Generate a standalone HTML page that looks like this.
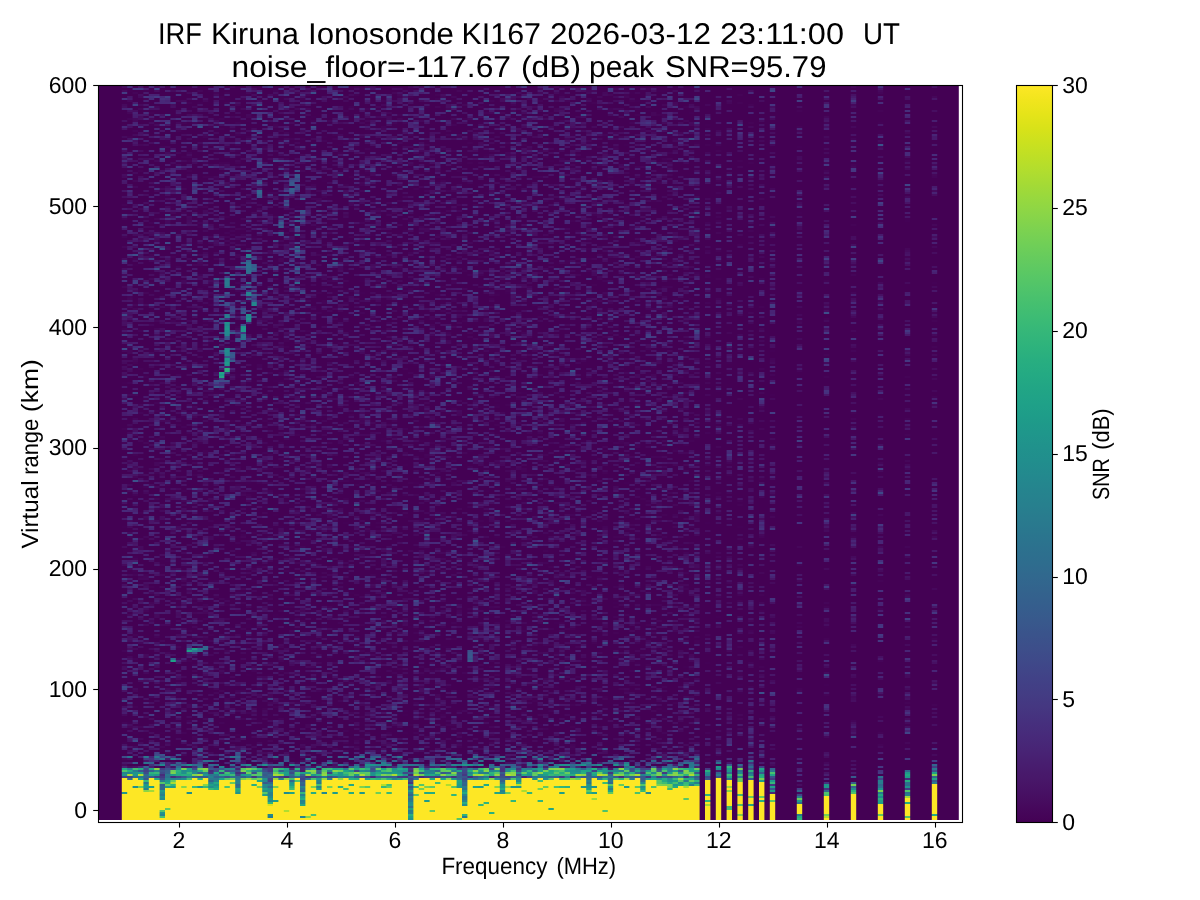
<!DOCTYPE html>
<html><head><meta charset="utf-8">
<style>
html,body{margin:0;padding:0;background:#fff;}
body{width:1200px;height:900px;position:relative;overflow:hidden;}
#bg{position:absolute;left:98px;top:85px;width:861px;height:735px;background:#440154;}
#hm{position:absolute;left:98px;top:85px;}
svg{position:absolute;left:0;top:0;}
text{font-family:"Liberation Sans",sans-serif;fill:#000;text-rendering:geometricPrecision;}
</style></head><body>
<div id="bg"></div>
<div style="position:absolute;left:122px;top:85px;width:578px;height:681px;background:rgb(69,13,95)"></div>
<div style="position:absolute;left:122px;top:766px;width:578px;height:13px;background:rgb(56,119,127)"></div>
<div style="position:absolute;left:122px;top:779px;width:578px;height:41px;background:rgb(225,222,49)"></div>
<div style="position:absolute;left:700px;top:85px;width:259px;height:735px;background:rgb(68,4,87)"></div>
<div style="position:absolute;left:705.0px;top:784px;width:5.4px;height:36px;background:rgb(230,225,45)"></div>
<div style="position:absolute;left:705.0px;top:770px;width:5.4px;height:14px;background:rgb(50,120,130)"></div>
<div style="position:absolute;left:715.8px;top:780px;width:5.4px;height:40px;background:rgb(230,225,45)"></div>
<div style="position:absolute;left:715.8px;top:766px;width:5.4px;height:14px;background:rgb(50,120,130)"></div>
<div style="position:absolute;left:726.6px;top:784px;width:5.4px;height:36px;background:rgb(230,225,45)"></div>
<div style="position:absolute;left:726.6px;top:770px;width:5.4px;height:14px;background:rgb(50,120,130)"></div>
<div style="position:absolute;left:737.4px;top:784px;width:5.4px;height:36px;background:rgb(230,225,45)"></div>
<div style="position:absolute;left:737.4px;top:770px;width:5.4px;height:14px;background:rgb(50,120,130)"></div>
<div style="position:absolute;left:748.2px;top:784px;width:5.4px;height:36px;background:rgb(230,225,45)"></div>
<div style="position:absolute;left:748.2px;top:770px;width:5.4px;height:14px;background:rgb(50,120,130)"></div>
<div style="position:absolute;left:759.0px;top:785px;width:5.4px;height:35px;background:rgb(230,225,45)"></div>
<div style="position:absolute;left:759.0px;top:771px;width:5.4px;height:14px;background:rgb(50,120,130)"></div>
<div style="position:absolute;left:769.8px;top:795px;width:5.4px;height:25px;background:rgb(230,225,45)"></div>
<div style="position:absolute;left:769.8px;top:781px;width:5.4px;height:14px;background:rgb(50,120,130)"></div>
<div style="position:absolute;left:796.8px;top:804px;width:5.4px;height:16px;background:rgb(230,225,45)"></div>
<div style="position:absolute;left:796.8px;top:790px;width:5.4px;height:14px;background:rgb(50,120,130)"></div>
<div style="position:absolute;left:823.8px;top:795px;width:5.4px;height:25px;background:rgb(230,225,45)"></div>
<div style="position:absolute;left:823.8px;top:781px;width:5.4px;height:14px;background:rgb(50,120,130)"></div>
<div style="position:absolute;left:850.8px;top:795px;width:5.4px;height:25px;background:rgb(230,225,45)"></div>
<div style="position:absolute;left:850.8px;top:781px;width:5.4px;height:14px;background:rgb(50,120,130)"></div>
<div style="position:absolute;left:877.8px;top:804px;width:5.4px;height:16px;background:rgb(230,225,45)"></div>
<div style="position:absolute;left:877.8px;top:790px;width:5.4px;height:14px;background:rgb(50,120,130)"></div>
<div style="position:absolute;left:904.8px;top:795px;width:5.4px;height:25px;background:rgb(230,225,45)"></div>
<div style="position:absolute;left:904.8px;top:781px;width:5.4px;height:14px;background:rgb(50,120,130)"></div>
<div style="position:absolute;left:931.8px;top:784px;width:5.4px;height:36px;background:rgb(230,225,45)"></div>
<div style="position:absolute;left:931.8px;top:770px;width:5.4px;height:14px;background:rgb(50,120,130)"></div>

<canvas id="hm" width="861" height="735"></canvas>
<svg width="1200" height="900" viewBox="0 0 1200 900">
<defs>
<linearGradient id="vir" x1="0" y1="1" x2="0" y2="0">
<stop offset="0.0000" stop-color="#440154"/>
<stop offset="0.0196" stop-color="#46085c"/>
<stop offset="0.0392" stop-color="#471063"/>
<stop offset="0.0588" stop-color="#481769"/>
<stop offset="0.0784" stop-color="#481d6f"/>
<stop offset="0.0980" stop-color="#482475"/>
<stop offset="0.1176" stop-color="#472a7a"/>
<stop offset="0.1373" stop-color="#46307e"/>
<stop offset="0.1569" stop-color="#453781"/>
<stop offset="0.1765" stop-color="#433d84"/>
<stop offset="0.1961" stop-color="#414287"/>
<stop offset="0.2157" stop-color="#3f4889"/>
<stop offset="0.2353" stop-color="#3d4e8a"/>
<stop offset="0.2549" stop-color="#3a538b"/>
<stop offset="0.2745" stop-color="#38598c"/>
<stop offset="0.2941" stop-color="#355e8d"/>
<stop offset="0.3137" stop-color="#33638d"/>
<stop offset="0.3333" stop-color="#31688e"/>
<stop offset="0.3529" stop-color="#2e6d8e"/>
<stop offset="0.3725" stop-color="#2c718e"/>
<stop offset="0.3922" stop-color="#2a768e"/>
<stop offset="0.4118" stop-color="#297b8e"/>
<stop offset="0.4314" stop-color="#27808e"/>
<stop offset="0.4510" stop-color="#25848e"/>
<stop offset="0.4706" stop-color="#23898e"/>
<stop offset="0.4902" stop-color="#218e8d"/>
<stop offset="0.5098" stop-color="#20928c"/>
<stop offset="0.5294" stop-color="#1f978b"/>
<stop offset="0.5490" stop-color="#1e9c89"/>
<stop offset="0.5686" stop-color="#1fa188"/>
<stop offset="0.5882" stop-color="#21a585"/>
<stop offset="0.6078" stop-color="#24aa83"/>
<stop offset="0.6275" stop-color="#28ae80"/>
<stop offset="0.6471" stop-color="#2eb37c"/>
<stop offset="0.6667" stop-color="#35b779"/>
<stop offset="0.6863" stop-color="#3dbc74"/>
<stop offset="0.7059" stop-color="#46c06f"/>
<stop offset="0.7255" stop-color="#50c46a"/>
<stop offset="0.7451" stop-color="#5ac864"/>
<stop offset="0.7647" stop-color="#65cb5e"/>
<stop offset="0.7843" stop-color="#70cf57"/>
<stop offset="0.8039" stop-color="#7cd250"/>
<stop offset="0.8235" stop-color="#89d548"/>
<stop offset="0.8431" stop-color="#95d840"/>
<stop offset="0.8627" stop-color="#a2da37"/>
<stop offset="0.8824" stop-color="#b0dd2f"/>
<stop offset="0.9020" stop-color="#bddf26"/>
<stop offset="0.9216" stop-color="#cae11f"/>
<stop offset="0.9412" stop-color="#d8e219"/>
<stop offset="0.9608" stop-color="#e5e419"/>
<stop offset="0.9804" stop-color="#f1e51d"/>
<stop offset="1.0000" stop-color="#fde725"/>
<stop offset="1" stop-color="#fde725"/>
</linearGradient>
</defs>
<text x="158.00" y="44.00" font-size="30.0" textLength="44.00" lengthAdjust="spacingAndGlyphs">IRF</text>
<text x="211.00" y="44.00" font-size="30.0" textLength="88.00" lengthAdjust="spacingAndGlyphs">Kiruna</text>
<text x="308.00" y="44.00" font-size="30.0" textLength="146.00" lengthAdjust="spacingAndGlyphs">Ionosonde</text>
<text x="461.50" y="44.00" font-size="30.0" textLength="79.50" lengthAdjust="spacingAndGlyphs">KI167</text>
<text x="550.00" y="44.00" font-size="30.0" textLength="161.00" lengthAdjust="spacingAndGlyphs">2026-03-12</text>
<text x="720.00" y="44.00" font-size="30.0" textLength="124.00" lengthAdjust="spacingAndGlyphs">23:11:00</text>
<text x="863.00" y="44.00" font-size="30.0" textLength="37.00" lengthAdjust="spacingAndGlyphs">UT</text>
<text x="231.50" y="76.80" font-size="30.0" textLength="279.50" lengthAdjust="spacingAndGlyphs">noise_floor=-117.67</text>
<text x="521.00" y="76.80" font-size="30.0" textLength="60.00" lengthAdjust="spacingAndGlyphs">(dB)</text>
<text x="589.00" y="76.80" font-size="30.0" textLength="65.00" lengthAdjust="spacingAndGlyphs">peak</text>
<text x="665.00" y="76.80" font-size="30.0" textLength="161.40" lengthAdjust="spacingAndGlyphs">SNR=95.79</text>
<text x="441.40" y="873.70" font-size="23.5" textLength="106.00" lengthAdjust="spacingAndGlyphs">Frequency</text>
<text x="556.40" y="873.70" font-size="23.5" textLength="59.60" lengthAdjust="spacingAndGlyphs">(MHz)</text>
<text transform="translate(37.80,548.60) rotate(-90)" x="0" y="0" font-size="23.5" textLength="68.20" lengthAdjust="spacingAndGlyphs">Virtual</text>
<text transform="translate(37.80,474.80) rotate(-90)" x="0" y="0" font-size="23.5" textLength="56.00" lengthAdjust="spacingAndGlyphs">range</text>
<text transform="translate(37.80,412.20) rotate(-90)" x="0" y="0" font-size="23.5" textLength="53.00" lengthAdjust="spacingAndGlyphs">(km)</text>
<text transform="translate(1108.60,500.00) rotate(-90)" x="0" y="0" font-size="23.5" textLength="41.80" lengthAdjust="spacingAndGlyphs">SNR</text>
<text transform="translate(1108.60,449.80) rotate(-90)" x="0" y="0" font-size="23.5" textLength="41.40" lengthAdjust="spacingAndGlyphs">(dB)</text>
<g fill="none" stroke="#000" stroke-width="1.1">
<rect x="98.5" y="85.5" width="864" height="737"/>
<line x1="93.2" y1="810.50" x2="98.5" y2="810.50"/>
<line x1="93.2" y1="689.50" x2="98.5" y2="689.50"/>
<line x1="93.2" y1="569.50" x2="98.5" y2="569.50"/>
<line x1="93.2" y1="448.50" x2="98.5" y2="448.50"/>
<line x1="93.2" y1="327.50" x2="98.5" y2="327.50"/>
<line x1="93.2" y1="206.50" x2="98.5" y2="206.50"/>
<line x1="93.2" y1="85.50" x2="98.5" y2="85.50"/>
<line x1="179.50" y1="822.5" x2="179.50" y2="827.6"/>
<line x1="287.50" y1="822.5" x2="287.50" y2="827.6"/>
<line x1="395.50" y1="822.5" x2="395.50" y2="827.6"/>
<line x1="503.50" y1="822.5" x2="503.50" y2="827.6"/>
<line x1="611.50" y1="822.5" x2="611.50" y2="827.6"/>
<line x1="719.50" y1="822.5" x2="719.50" y2="827.6"/>
<line x1="827.50" y1="822.5" x2="827.50" y2="827.6"/>
<line x1="935.50" y1="822.5" x2="935.50" y2="827.6"/>
<line x1="1052.5" y1="822.50" x2="1057.8" y2="822.50"/>
<line x1="1052.5" y1="699.50" x2="1057.8" y2="699.50"/>
<line x1="1052.5" y1="577.50" x2="1057.8" y2="577.50"/>
<line x1="1052.5" y1="454.50" x2="1057.8" y2="454.50"/>
<line x1="1052.5" y1="331.50" x2="1057.8" y2="331.50"/>
<line x1="1052.5" y1="208.50" x2="1057.8" y2="208.50"/>
<line x1="1052.5" y1="85.50" x2="1057.8" y2="85.50"/>
<rect x="1016.5" y="85.5" width="36" height="737" fill="url(#vir)"/>
</g>
<g font-size="23">
<text x="87.0" y="817.80" text-anchor="end">0</text>
<text x="87.0" y="696.98" text-anchor="end">100</text>
<text x="87.0" y="576.17" text-anchor="end">200</text>
<text x="87.0" y="455.35" text-anchor="end">300</text>
<text x="87.0" y="334.53" text-anchor="end">400</text>
<text x="87.0" y="213.71" text-anchor="end">500</text>
<text x="87.0" y="92.90" text-anchor="end">600</text>
<text x="178.80" y="847.6" text-anchor="middle">2</text>
<text x="286.80" y="847.6" text-anchor="middle">4</text>
<text x="394.80" y="847.6" text-anchor="middle">6</text>
<text x="502.80" y="847.6" text-anchor="middle">8</text>
<text x="610.80" y="847.6" text-anchor="middle">10</text>
<text x="718.80" y="847.6" text-anchor="middle">12</text>
<text x="826.80" y="847.6" text-anchor="middle">14</text>
<text x="934.80" y="847.6" text-anchor="middle">16</text>
<text x="1062.3" y="829.80">0</text>
<text x="1062.3" y="706.92">5</text>
<text x="1062.3" y="584.03">10</text>
<text x="1062.3" y="461.15">15</text>
<text x="1062.3" y="338.27">20</text>
<text x="1062.3" y="215.38">25</text>
<text x="1062.3" y="92.50">30</text>
</g>

</svg>
<script>
(function(){
var NC=155, NR=369;
var b=atob("//////////////////////////////////////////////////////////////////////+B//////////+7//////////////////////////////////////////////////////////8A/wD/AP8A/wD/AP8A/wAAAACnAAAAAP8AAAAA/wAAAAD/AAAAAP8AAAAA/wAAAAD/////////tP////////////////////////9q//////900v///////////////////////47///////////9n/////////////////////////////////////////////////////////wD/AP8A/wD/AP8A/wD/AAAAAJ0AAAAA5QAAAAD/AAAAAP8AAAAAuQAAAAD/AAAAAP////////90/////////////////////////3r/////////tf//////////////////////n////////////6T/////////////////////////////////////////////////////////AP8A/wD/AM8A/wD/AP8AAAAAawAAAADJAAAAAP8AAAAAwQAAAAD/AAAAAJoAAAAA/////////4T///////////////////////////////////////////////////////////9t//////////////////+i//////////////////////////////////////////////////8A/wD/AP8A/wD/AP8A/wAAAAD/AAAAAP8AAAAA/wAAAAD/AAAAAP8AAAAA/wAAAAD/////////uv/////////////////////////////h/////////////////////////////2r////A/////////////////////////////////////////7j//////////////////////wD/AP8A/wD/AP8A/wD/AAAAAP8AAAAA/wAAAAD/AAAAAP8AAAAA/wAAAAD/AAAAAP//////////w///////////////////////////////////////////////////////////jv////////////////////////////////+W////////////////////////////////////AP8A/wCzAP8A/wD/AP8AAAAA/wAAAAD/AAAAAP8AAAAA/wAAAAD/AAAAAP8AAAAA//////////////////////////////////////////////////////////////////////9g//////////////////////////////////////////////////////////////////////8A/wD/AK8A/wD/AP8A/wAAAAD/AAAAAP8AAAAA/wAAAAD/AAAAAP8AAAAA/wAAAAD////////////////////////////////////y//////+Y/////////////////////////4L///////////99//+q/////////////////////////////////////////////////////wDbAP8A/wC4AJoA/wD/AAAAAP8AAAAA/wAAAAD/AAAAAP8AAAAA/wAAAAD/AAAAAP///////////////////////////////////6X//////3f/////////////////////////e////////////5////+n////////////////////////////////////////////////////AP8A/wD/AP8A/wD/AP8AAAAAXgAAAAD/AAAAAP8AAAAAjQAAAACcAAAAAP8AAAAA////////////////////////////////////doz/////cf////////////////////////9o//+M////////dP//////////qP////+p//////////////////////////////////////8ApwD/AP8A/wD/AKIAvwAAAACKAAAAAP8AAAAA/wAAAACRAAAAAP8AAAAA/wAAAAD/////////ev////////////////////////+K//////+d/////////////////////////17///////////9k///////////////////////////////b/////////////////////77//wD/AP8A/wD/AP8A/wD/AAAAAMQAAAAA/wAAAAD/AAAAAKIAAAAA/wAAAAD/AAAAAP////////+G/////////////////////////3j//////5H/////////////////////////a////////////2D/////////////////////////////////////////////////////////AP8A/wD/AP8AxADEAP8AAAAAawAAAAD/AAAAAP8AAAAAegAAAADaAAAAAP8AAAAA/////////23///////////////////////+Rbf//////bv////////////////////////9Qvf///////6j/c/////////////////////////////////////////////////////////8ApAD/AP8ArwD/AP8A/wAAAAA1AAAAALQAAAAA/wAAAACaAAAAAGsAAAAA/wAAAACI////////fP////9+//////////+E/////79u//98lP+p/5//eP+M//+c/4n//8f/q////2X//5ud//////+a//////+YfMT///+n//////+P/////6CO///B/////7f/fP///////////wD/AP8A/wD/AP8A/wAdAAAAAAYAAAAAuAAAAAC4AAAAAGwAAAAAYAAAAAD/AAAAAP/////S3P+L/////////////////5f/////fIL//////1P/////////////////////////hf///////////4L///////9v////3///////////////v////5P//////6v/////////////AP8A/wDSAP8A/wD/AIwAAAAAUQAAAABUAAAAAKUAAAAAywAAAAC5AAAAAP8AAAAA/////2///1T//////////6ud////m/////+SfP///6//Yv//j/////+0//////////////9Z/8n/////////Xf///////5v////////K//////////+P////a///////jP////+s//////8A/wD/AP8A/wD/AP8AQwAAAAAtAAAAACQAAAAAdwAAAACCAAAAAC4AAAAA/wAAAAD//4DHjI3/Vo2L/9H/rYasfZL/t/9d////yXNTzP//o/9y/85t/8v/pv///86+//+rw////z+q/8y/////vIRo/5WO///QhtiGh//////D/7Woo///hoCH//+K//+M/798/7j//8ua/9z//wD/AP8A2AD/AP8A/wCSAAAAAAAAAAAAhwAAAABPAAAAAGAAAAAAggAAAAD/AAAAAP////+K//9Lwqb//////9KPgP///1X//6H/em7///+N/0v//7P//////5j//////+Oy////eP+8/////+D/jE////+a//+J///m////////////////gv///77/xP///7r//83MzYuWs2utAP8A/wD/AP8A/wD/ACcAAAAACAAAAACEAAAAAMsAAAAAVQAAAABbAAAAAP8AAAAA/////2b//7qZ3v///////3ea///Dbv////9HUv///4T/VP//aP////////////////////8m/////6////+SU////////2b//6H///////////////9g//+uVf//////ev//urCWs3+sjmoA/wD/AP8A/wD/AP8AqgAAAAAAAAAAACQAAAAATAAAAABrAAAAAF8AAAAAawAAAAD/////rf//aorE////////Tm////9t////l3Yu////U7lD//9y/////////////////////zv//////////5ZH////////Tv//eP///7X//////////27///9l//////9W//+8m4ONvWbDqAD/AP8A/wDFAP8AjwCIAAAAABwAAAAAAAAAAAAAAAAAAGwAAAAAnwAAAABLAAAAAP9Y/4tD/5w6cm5wfLP/n/9mZZW8ymPL3cDOgDTcbdKz/zJkuInaa//T/6Kf/5Cuo7mdb4qxNGf//5v/lNOFVjZ2WXOX0X9NWLd6//+A/3u5/6uu1cf/WP9wqVPApd1r/0eHloWfe67ZnphYAEQA/wBbAMIASwDKACoAAAAAAAAAAAAiAAAAAAAAAAAANgAAAAAfAAAAAJMAAAAANDVdZlNKMipgHzNGbllFSm9PUkBbWEpnKGlQTEQrIEpXOSMwQmc4R25ibEU8NxpOTkpMKSZKQB0tMS5FRyRJQSA/VGUdQjsyS1wbN2RrbFZSJ2seYUhTV0JjZ0ggV05IRSNuLEI5U24kakYAOABBAJgAbAC0AJ8APgAAAAAAAAAAAAAAAAAASAAAAABiAAAAAI8AAAAAUQAAAACE44fhVJWLH2eKmZ6d0NyIZmekoK8zi4+8vEZU39iJWalO2Iud1pKWiJ/DhN+7hKfNxN+igRrhyJKbhdS1tksqiNnfvZ3VNuTWO5iEw4KPqqOwqZ/g1U6V5dlS1s6oyuBwj7fPicrSwqPfpAB1AGcArgC0AHQAmQCUAAAAAB4AAAAAFQAAAAACAAAAAAAAAAAAmQAAAADMAAAAAHJyhI46o6s4UMydfqt6S3EkkjKyeB8txj+2TUHIpZA5s5GRyEbPLquGsL3RvMB+l4B+joM1R8VGbXS5RVLSRTNwpmxqpr1IzNNywom/1Jiav6DEg4KgT53EfiiauXOiUiG3d8krj8+Fy8ZCAH0AUQBbAHkAXwBJALUAAAAAAAAAAAAMAAAAABAAAAAAKgAAAACJAAAAAJEAAAAAuptqRTFNcUBMxqN6hm6cxh86rDhIOcyqc246JrBPfElIEM/UTr9y1MmVgDJ5bkR4sbuIf3wb0rJwbFPBw2mQOJrShtFygCZ5tDV6qk+SypWruIN9eJiRMpCHcXRovz2TRoW/Rrdri0bQjY8AogARAIYAaACkAHoAYwAAAAAcAAAAAAAAAAAAAAAAAAAlAAAAAFUAAAAAQgAAAACZabGeNJbULz8tdsqOOsfTQjpIbG4WvMy7nDEnuqeSFqMTVJULrK+RmWbAlbGhOsCQtoKYjCXFlUKepL+ZjDU9blCrwDPNJXV4ImxnfY47z9HQmo1zVHmeR4cQbtB/Om4wNMYykWzUsKOQxAArAHgAjgDLADQAlgBSAAAAABUAAAAAEQAAAAAPAAAAAAAAAAAAAAAAAABnAAAAABgJDBpVFgMAJApZDA0gYww0BHQDFzoMHE4BBRcMEAgBGxEbCngMFA4KAk92IXFLRAMVHmIWDw5UEhUZBRUTARgHAQUJZVwqB1Q6BiECXhNicRMUSxkDMgQDGAICCFJ1DRMBSA1LV0YRCGUZAAAAjACnAC0AYQAxAAAAAAAAAAAAAAAAAAAAAAAAAAAAKQAAAAAAAAAAAC8AAAAABgAAAAAkPnYaWj1egVtWAFhSAABXAGaAAE2BQFBFAHxCAFUADDoAC2FDBlMKgoV6cnQHYGNkYEcGYExpL3Vmh31igQBXAE1JTBMHXEJ7SwBifoJXb4FSY3kAAIA3gwAxAD4AAABOFlQAZFMAAAAAAEYAVQBCAAAABwAAAAABAAAAAAwAAAAACgAAAAAAAAAAAAAAAAAAUgAAAAAPEUkAYFEAQRwOTBwAEkAZAAABGwIaDAAAACcKAFMAFAU/AGAAL2QeABkAACJNIwBpNAAAHAAAAAA7AAAmAANZACUAAAAAAAsJLh5VABcdVQABAysAVWgAEjo5SyBmAScAMSA6EwcAO1thFwAWAGUAEgAAACUAFAAMAAAAACcAAAAABQAAAAAAAAAAAAAAAAAAAAAAAAAAAAAAAAEAAAAOHRgAAAAAAAAVJVxgLwAARkIJADUhFQAAAEMAAAclAQAAMgAAAAAcJRcAW0cATxA0AFkbACsEIggAPUUAAFsAAEpbAAAQAAAAKAAAABQ+AE4AJAAAAEcAAAAUAC8ATQBHYRsAPCctAAAAMgAAABMAZQAAAAAAAAAAAAAAAAAAAAAAAAoAAAAAAAAAAAAAAAAAADAAAAAABAkAACoiQlwQakoAABgMAAAANQAAQgARABkLAAgANwEAAFcLAAAAAAAAUycAK1oAKQ4BHwAIOBQhIwQASFhVAFEnBThCaQARJREABB5sABhODQAZACBLAAAAADhOAAAAABAVAA0ALR4ABVkAAgAAAB8AHAALAAAAFgAAAAAVAAAAAAAAAAAAAAAAAAArAAAAACwAAAAAAAAAAAA8YAAWYxloMEwkAAAAABc4AAAGLWBZIAAXAAwvXAA6AAAIAB0BAD8ATDgASWQASlMUAEJkAAABADIvKCtBAAYAAGI5GwAuVQUAOlIAURRAFQBoLgEAAAAAABktJEQ3JAAAACFVDDMiAgk3QwAAAAAAAAAAACEAFwAAAAAAAAAAAAAACAAAAAAAAAAAAAAAAAAAAAAAAAAAAAAAAAAAEgAAADpBAAA7BAAZQAAZEjUAADwAAwAYACEAFQ4AADoKAAAYAAAAAAAAOQAnJwBDAAMhAAAAAAAXAAAWGQAAMwAAEhoADw0AABQAJwAALREMChYAAD0AAAANAAwAAAARAAkOAAALFwAYABIABQAAAAAAAwAsAAAAAAAAAAAAAAAQAAAAAAAAAAAAAAAAAAAAAAAAAAYAAAAAABUAFAAAMwAEAQATACEKGwUAAA0AQwUcAAgGDQAACAAAEgAACxIQAAA3ABkAOSIACwAAABcVAQAWAAAAHEAAABYHABsAAAAAAChEDhoAEg4AFhsACBYAAAgHAAAAABUVAAAAHgUlGjANBgUAAAAfAAAAAAAxAAwAAAAAAAAAAAAAAAsAAAAAAAAAAAAUAAAAAAAAAAAAAAAAAAAACRIADwAAACIAAAAAEj0AAAAAIyUPPwAAEAAAEgAAIwAcHkE5FwAYGQQAAAAOEQMjAB4TAAAKBwANIioAAAAAJAAAKwkGACogEhcfABUAEwAACgAOAAAAAAkAAAAhIgAAACQAAAAACQAmCwAAABAADQAAAAAAFAAAAAAAAAAAAAAAAAAAAAAAAAAAAAAAAAAAAAAAAAAAAAAAABkALx8ADxMAAAAwKi8AQhAAABgABwobDwAAFxgUHgAAGwAQAAAAAAMAAAEIAAMAAAkAQxgUABkzAAAJAAcAAAAABwccAAAANwADOQAAAAAADQAWAxU4AAASQwAZLiwABwAAFAcADgAAACgAAAAADAAAACcAAAAAAAcAAAAAGQAAAAAAAAAAAAAAAAAAAAAAAAAOAAAAACcAAAAAIw4GAAQZAQQAAAAAAAoADgACAAAdChAABwAAAB0AADEABRcGAAANAAAXCwQAIBEeABIAAAAAAAMKAAAUABUCAA0dABoAHwAALAARHQAYAAAADwAEAAIADgIAAAAkAAAAAAAAAB0AIw8AEQAAAAAAAAAAAAAPACkAAAAAAAAAAAAAAAAAAAAAGQAAAAAGAAAAAAAAAAAAAAAAAAAMAAAXIgAeAAkAAAALBAAAChEAAAQAAAcAGQAREgAAAAAHAAgJHRAgAAAAAAAAAAAGCRQAAAAAAAAAABgADAUAAAAAAA8AABMADQoAAAAAAAsAAAMAAAAAEAAAAA0cIgUACgAAAgEAAAYAHAAPAA0AKgAAABsAJQAMAAAAAAAAAAAAAAAAAAAAAAAAAAIAAAAAAAAAAAAAAAAAAAEAAAcAGxUABQAACgAaGwAAHwAwAAAAAAAEAAAACh8YAAAAAAsOABkAAwAHACYAAAwFACgXAAAjFwAfDAAAAgAAABEABBkAAAAlAgAAABkADgAXAAAeAAALAAAAAAAAAAAAAQoPHwAQAAgIAA8AAAAdAAAALgAAAAAAAAAAAAAAAAAAAAAAAAAAAAAAAAAAAAAEAAAAAA8AAAAAAAw4AAALAAAbAAAiAAAWFwAYAgAFBwAAAAAABAAYAAAAAAAAEAAACgsNAAQAHAAJDQAqAAAAABsAAAAJAAAZAAwAAAAACAARCQAAAAYAABAiAD0dAAAAAAABAAAJACEKAAAFAAAPAAAAAAAAAAAAAB0AAAAJABgAAAAAAAAAAAAAAAAAAAAAAAAAAAAAAAAAAAAAAAAAAAAAAAAADyYFAAAAFQAABwAAAiwIAAAQIwAFCgAAAAAAAAAAGSgCACYDAAAAAAAAAQIAGQAAGiAJFQAPABcGKAAHAAAAAAcAAA4OAAUIDQAAAAATHCsTAA0AAAAAACwABgkAAAQDIgAHACEAAAAKAAAYAAoAHQAAAA8AAAAAAAAAABUAAAAAAAAAAAAAAAAAAAAAAAAAAAAAAAAAAAAAAAAtAAAAIRMAGQAAAAADAAAAAAAAGAA1AAYOEAAWAAAaBAAREgUOFgACCwABAAATAAcAAAAAABEABAoAAAAABQAAAAAPAAAAACkADgAfAAAQAAATAAAAAAAAAAAAAAAAGQAGEQAAAAAAAAAQAAAAEQAAAAAAIwAAAAAAAAAAAAAAAAAFAAAAADgAAAAAEgAAAAAAAAAAAAAAAAAAJgAAAAAADgAAAAAAAAAXAAAACgcAAgAAABgRMwcXDQAAAAYLCwARChcAABEAFAAADggAAAAAAAsAEwAAACACABQAACEDAAAAHBsACwAPAAAIAAAnEhAAAAQMAAAQAAMWABgAAAASAAAAAAAAAAAAABcADgAIAA8AAAAAAAAAAAAAABUAAAAABQAAAAAOAAAAAAAAAAAAAAAAAAAAAAEAAAgAAQAADQMAIQAAECccAQAAAAAcAAAUIgAVAAAjHRMIAAAAGgAAAAAEAAAAAgAAAQADAAAiDwAAAAgXAAAAJg0UAAARAAAAAAsAAA4mAAAAAAAqDgAAACQGJwAAEgAAAwAAAAAWAAADAAAACwAfABsAAAAAAAAAAAAAAAAAIwAAAAAOAAAAAAIAAAAANAAAAAAAAAAAAAALAA8JAAAAEwARAAAAIhMKAAAAGwAAAAMqAgAUDAALAAAAAA0AGBUAAwAACAAAAAAAACcAAAAYAAAAHwAAAAAAKwkfAQAAEAAAAAoAAAAAAAAAHwsAAAsAAAAAABgAFAAAAAYAFB4GAAAAAAAACAAFAAAAHgAAAAwAAAAAFgAAAAAAAAAAAAkAAAAAAAAAAAAZAAAAAAAAAAAAAAAWAAAAAAAABwYACBYdBBgAAAAxAAAAAAALAAoOAAAACQAYACMAAAAAAAkAFxEAHgAAAAAAAhAAAAAjAAcAAA4AAAAAAAAAFRoAACEFAwAAAAAACwAAAAAVAAAAAAEzAQwABwAAAAsAACMAAAAAABYABQAhAAAAAAAAAAAHAAAAAAAAAAAABwAAAAAAAAAAACcAAAAAAAAAAAAQBAgEFhIAABIAFAAAFgAcABIAAAAAAAAAAAAhBgAADwAABAAAAAoAHAAAAAAFAAAaCwEHAAAUAB0cAAsAAA8AAB4AAAQKAAArCA4AEAAAAAAAAAIAAQAVBBMADQYAAAAAABMVAAAdABAAAAAAAAAAAAAAABAAAAAPAAAAAAAAAAAAFgAAAAAXAAAAAAAAAAAACQAAAAAAAAAAABoJAAAACSgBEgAsAAAxAAAdAAAAAAAAEgAAAAITAAAYAAAEJgAAAAAbACILAAwMKSEABw0mAgwAAAALAAMCDwAAAAAAAAAAHBYAAAAAARQAEQAAAAAAAAwAAAAOAB4SFgAADAAAAAAAAAAAAAwAJgAAABEAAAAPACgAAAAAEwAAAAAAAAAAAA8AAAAAAAAAAAAAAAAAAAoAAAAAAwEOAAAABx0AFhMACwAAGwcAAwAAAAAADggAABQRAAARAAAAAAAjAAAAAAgAAAASFgASCTAAAAAAOQAAABMPACooJggAAAAOAAEMDBcAAAAAHwAAKQAAAAAAAAAAABUAAAYeAAAACQAACygAAAAAAA8AAAAVACsAAQAAAAAAAAAAABEAAAAACQAAAAAAAAAAAAYAAAAAAAAAAAAAABsAAAAbGAAAAAADFQAALwAAAAAAAAAAAAAIGw8AAAAAAAAMAAIBAAABAAANGAAAQgYAAAAAAAAVAAAFEQAUAAAAAAAoABkKDQYRAAAANQAAMwAAKAAAAAAJACYAAAAAKhEYABAABQAACQAAAAAABQAAAAAAAAAGAAAAAAAAAAAAAAAAAAADAAAAAAwAAAAAGQAAAAAAAAAAAAAAAAAACQAAAAAJAAAAAAYmAAAAAAkDFgYABAAAAwAYAAAAACIAAAAAEAAAABoAAwAAFgAAAAcADCQQAAAJAAAADxAAAAAAAAAJADIKAAAXAAgACwAgAB0UAAAfAAAACQAADQAHAAANAAAIAAAAHgASAAQAFwAHAA8AAAAAAAAAAAAAAAAAAAAAAAAAAAAAAAAHAAAAAAAAAAAAAAAAGgcAAQAYABQABgAlAQAACgAAIAAAAAAAAAAAAAAVIg4FAAIZABAVABQEAAoXIh8DAAAAHA4ABAAFACUAAAAsEREICwANEwAAEQAADAAAAAAWAAAAEAAAAAAAIAAGAAAAAAEgAAsNFAAAAAAAAAwAAAAbAAAABgAAAAAAAAAAAAAAAAAAAAAAAAAFAAAAAAAAAAAADQAAAAAGABUAAC0AAB0pAAAAJiQAAAwAJQAAAAALAAsACQAAHSobAA4AEhUlAAAOAAALFQEAAxsAAQAHAAARAAIAAAAAAAAANAAAABgAABAAAAQJAAAABQAAAAAAABsAAAAgKwAAAAAaAAAAAAAAAAAAAAAABQAEAAAAAAAAAAAAAAAAAAAAHQAAAAAAAAAAAAAAAAAAFQAAAAAAAAAAABQAJgAPAAAAEwY+AAAAGAAFCAARCwAIAwQABQAAAAASJgAAAAchHisAEQQKAAcJHgsrAAAAABkKAAsAAA4ACQAJAAAAAhQAAAIAAwAAAAAAFQAAAAAYABgJAAA2AAAAAAAAAAAAABEKIwkAAAAAFAAPAAAADAAAAAAAAAAAGAAAAAAAAAAAAAAAAAAAAAAAAAAlAAAAAAgAAAAAECcUAAAALAAMBwAVACYAEgAAEwAhBwwADQAGAAAVIAYnHxYABAAUABkLAAAAABUAAAAAKgEACwAAAAgAAAACBQAAIgAAGgAHAAAAKQAAAAMaAAAAAAAAABsAABIJHgobAAAEAAEAABIZABgACgAAAAAAAAASAAAADQAAAAAAAAAAAAwAAAAAAAAAAAAAAAAAABoAAAAAAAAAAAAbAAAAAAAAABkAAAYAAAAAGRIABwoAAB8GAAIMAA4AHBQAAAAsABYjFAAAGAATDwAkEioAAAAAEAALABYAAAAAHB8ACS4RAAAsHwIAABQAAAAAGQAAAAAAAAsAJAABDgAVCwACABsAAgAeGQAHABYADgAAAAAAAAAMAAAAAAAAAAAAGwAAAAAAAAAAAAAAAAAABQAAAAANAAAAAAsVAgAaFgATABQNAAUjCwAcAAAOAAADFgAAAAACCgADAAAADRUfAAAAAAAbAA8AFgQVMRsAAAAAAAAEAAgAAAAAABcABBAAFD8CDgAAAAAYAAADAAAAAAAAAAAAAxgYFQArAAAAAAAcIQQAAAAAIQAAAAAAAwAAAAAAAAAAAAAAAAAlAAAAAAAAAAAAAAAAAAAIAAAAAAAAAAAAAAkAAAAAAAAaJwsABSgADgMpAAsAGAAlJgAACQADLgAhBwAJAAAOAAAAIgAEBQAAEw8ZAAAACioQBhMKAAAAACQmAA4AHAAACAAAAAALGgghDw8CBwAAARAAAAoAAAAACwoZCAAQABIAAAwAIgAAAAAAAAAZABYADgAAAAAAAAAAACIAAAAAAAAAAAAAAAAAAAAAAAAAAgAAAAAAJQAAHAoAAA8QLhUAAAAAACYALCYAFRIWAAAEBhEXCAMFCgAAAyAAAAAAKQsWAAAAACIoFQADAAAAAg8ACwAAEAAnIAAAAAgbHxoFAA0AEAAAAAAABwAfAAAAAAAYBwAAAAAAAAACFCcAAAAAAAAAAAARABcABAARAAAAABUAAAAAAAAAAAAAAAAAAAAAAAAAAgAAAAAAAAAAADcAAAAAAAcAAAUAAAAAFQAAAAAFABoAGR4ABgANAAAAABwbDQAAEQAEFQAPAAAAAAAUAAcoAAAAAAAHCgAVFQA1AAIAABEAHQAVCQACAAAZAAAQABMfAAsAAAAAAAAAAAAAAAUOAAAADwAbAAAAAAAaAAAAAAAUABUAAAAAAAAAAAAAAAAAAAkAAAAAAAAAAAAAAAAAAAAAAAAAERoAAA0AAAAdKRAcACYACAANAAQAAA0ABAAANg8DABYQAAAAABIdAAALAQAABQIAAAATFQAAGx0AABIAAAAAAAACHwAAAAAAHgAFBQAbAA4AHQsMAAAACgAEABMKBB8AAAwACgAYDwA1FAAAAAAXABEAAAATABoAAAAAAAAAAAAAAAAAAAAABwAAAAAAAAAAAAsAAAAAAAAAAAAAHCAOAAURABYLAAAAAAAAAAAZAAcAAAkACAAEAAABFwAXBwAAKw0AABAiAAABIBwADwAPDgAACgAABQANDgAACAgAHSkAAB0AGA0LCg8CAAARABEAHgAVDQIAJyIAABgAABkDAA4AAAUDAAAAABkADwAAAAAAAAAAAAAAAAAAAAAAAAAAAAAFAAAAAB8AAAAACQAAAAAAAAAAAAAADwAAKSAAAAABAAAADQAIAA4AHQAAAAoGFQQAACQAFgAAAAAAHwAXBQ0AEyoLACwAAA8JAAAAABEEAAAAAAALACIdIQAAAAwZACEAGQ4AAAIRFQAKABkAAAAAAAAhExAAAAAAAA4AAAAIAAAAJwAAAAAAAAAAACUAAAAAAAAAAAACAAAAAAsAAAAAAwAAAAAdAAAAAAAAAAAAAB0AAAAAABceKAAAEAEAAAAEABoACB0RCAAADRQRAAwTHgAAAAAAHwAAGQAAAAAAGAAAJAAAAAQeAAAADiwAAAAbAAoNAAAIAgAcAAAAAAgZAAAAFxgAAAAAAAAABQYAAAAAAAAAAAAAHx0AGAAAAAEAAQAYAEAALQAAAAAlAAAAAA8AAAAAEQAAAAANAAAAAA4AAAAAAAAAAAAMAAQAAAAAAAsJGAANEh8AAAAEAAADAwAoJgAADwALKwABAAgDABYAGAAAAAAnDAAAABMIAQAwCRQAACYABwAAFgIZAAARAAAAHAAAAAANAA8AChQHAAAAByEAAAACAAAAABUfBgAAGwAaBwANAAAAEgAIAAUAAAABAAAAAAQAAAAAAAAAAAAAAAAAACQAAAAAAAAAAAAAAAAAADIABwAAAAAZBQAMAAAAAAAABQAAAAAAEQABABsXJAAPACMZAA8GEiQYAAAoAA4AEAAAGAonAAAIKRYABQAAAAAAAwAZAAAACAAHAAAYAAAAAAAAAAoAAAwIAAAABAYABgAAAA0AAAABBwAAAAoAAAAAABcAGwAAAAAAAAAAAgAAAAAAAAAAAAsAAAAAIAAAAAAHAAAAABYAAAAANyIAAB8AGwAAAAAAAAAAABMZAAAAAAAAAAMACwANABEAKQoNAAAAHwArAAAAAAYPAAAUEQwAAgQAACsAAQAAAAAAAgADAAAjAAAAADgACw0BAAAABw0AAAAYAAAAAAAAAAAKAAMAAAghAAAAAAAAAAAAAAADAAoAAAAAAAAAAAAAAAAAAAAAAAAAAAAAAAAAAAwAAAAAAAAAAAAXAAAAAAAAABA0JBUAABE3ABgACBgLIwAOJAAXGgAAAAAAAAAAAAAAIwAhAAAXAwkcAAAfGAAZCgAABhMHAAAAAAAAGxEhAAUAABECAgsAEQAAAAAAAAAAAAAADxsBBQcALwAAAAAAABMGAAAUAAAAAAABAAAAFgAAAAAAAAAAAAAAAQAAAAAKAAAAAAAAAAAAAAAAAAAYAAAAAAAPAAAnAAoAAAAFDgAMABYOGQgbBAsOAAAVDAAbEQAAGQEAABkVAAANAAQAFRA0EhQJAAoFAAAACgALDgAAAAABAAAADAAAAAsAGw4NABMAGgAAAAAAAAAAFAALAA8KAAAAACkAAAAAChMAAAAABgAAAAAAAAAAAAsAAAAAAAAAAAAAAAAAAAAAAAAAAAAAAAAAAAAAAAcAAAAAAAAACAcLHgglAAAAAAAeBgAAAAAcAAAAAAMAABQAFwAfGwAKAAA0AAAJABAOHAAAAAUAIBYAEAsPABcOAAAhAAAUABAHCgAMIgAAACgACRQAAAkAKwAAIQAcAAAADAAAAAAAAB8uFwAAABIAAAAAAAAAAAAaABcABwAAAAAAAAAAAAAAAAAAAAAAAAAAAAAAAAAAAAAADQAAAAAAAAAqFRwAACIBBwAACAAQCgAAAAAAAAAAFwoiABYAAAAAHjYBAAADFjIYACIAAAAAAAAEGwAfABsNFAAAGgAAERoECgAWAA4AAAAAABUECQAIAAwAHgATDhEAACUAAAAAEwAAFQAQAAQABQAAAAAAAAAXAAAAAAAAAAAAABwAAAAAAAAAAAAAAAAAAAcAAAAAAAAAAAAAAAAAACEAAAAAAA4PACcKBwA5GAEAFwEABQAAAAAGBRAAAAAeACIABQAmAAsADR4WAAwiCAAkABkAABEAAAAAAAAAAAAACwAACQAAAwAIAAAKAAAbATwEAAMLAAANAAAYARMAGQAPFhIAAAAJAAAAAAAAAAAWAAgAAAAJAAAAAAAAAAAAAAAeAAAAAAYAAAAAGgAAAAAGAAAAAAAAAAAAAAAUAAAAAAAAAA8AAA0ABxEYAAAAGQABAAAAAQAHAAMSAAALABAAHAAAABkAAAAAAAAADAAAAAEAAAAAAAAAAAAAAB0AAwACAwgQDA0AABQIAAAAACgMLh0ZAAYAAAAAAAUQAAARABsANBcAAAAMAA8AAgAbAAYADgAAAAABAAAAADsAAAAACAAAAAAAAAAAAAcAAAAAAAAAAAApACwABQAAAA4MAAAAAAALFhgEHAAAAAAACQAAEAAEDAYAAAAADwsAAAAAAAAAFgAAAAMABwAOBAANAAAWFAADFisAAAAAACMRFwAAAAAACwAMLBMAAAAAAAYAAB4AAAAAFxowAAwAACEBJgAAAAAAAAACAAAAAAAAAAAAAAAAAAAABgAAAAAAAAAAABMAAAAAJgAAAAABAAAAAAASEAAWAC0AHwAMAAAEACkGAAcADwARAAMAAAAAAgAAHQAMEx0AAA4AAAAAFhQVAQAFAAAAACEACAMJEQApAAAAIAAlJx4AHzAJAAAdAAAmAAAoEgAAAAAWCgAAAAADMwABBRQAEwAAAAAAAA8AEgAAABMAAAAQAAAAAAAACAAAAAAAAAAAAAAAAAAAAAAAAAAAAAAAABsAAAAACQAfDQAJAAAAAAARAAAhFCEJAgAhAAAvDCkAFAAqAAAAAAAAAAAfAAAAAAAAKhMAAAAAAwgAAAAFAAIHARYAAAARBwAAAAAUAB0ACxgAAAQWAAMSAAAAAAAAAAAAAAAAAB0AAAAEKAAAAwAAAAAAACIAAAAAAAAAIQAAAAATAAAAAAAAAAAAIQAAAAAAAAAAAAAAAAAAAAAAAAAIJgAOAAAJAAAAABEAIAAmEwASABsAEgAFAAAAHBoAAAAABwUjAAEdAAAAAAA0IBoAAA8AAAA3AwAAAAEMAA4ACRcAAAIaAA0IDgAAAAAAAAAACQAcNwAOAQAAFQAAAAAACAAAACIAAAEJHAAAAAAACwABAAkAAgAAAAAAAAoAAAAABwAAAAASAAAAAAAAAAAAEQAAAAABAAAAAAAAACMAKwsAAAAAAAACFwAAAAUAKwAPDQAkCAoEAAAHABsADwAAEQAAAAAAAAAAKwsRAAkiAAAAACYADQkAAAAAAAQAAAAACQAIAAAAFwAAGgAAExsAAAAAAAAAFBYACQACAAAGAAAAAAAdAAAAGgAAAAAAEQAAAAAAAAAAEAAAAAANAAAAAAAAAAAAAAAAAAAAAAAAAAAAAAAADBsVAAASKQAMAA4AAAAQCgANDB4AAAATIQAZBRQAAAoQJg8RBAAOBCoAIBsiDCMFAA8WABQAABIABAAnAAQAAAAAACoACAAAAAAjAAcGGwkAKTYAAAAAABoXAAAXEQABAAAgERQAEAAAABcAAQAAABEAHAADAAAAAAAAAAAAAAAAAAAAAAAAIAAAAAAAAAAAAAAAAAAACgAAAAAAHQAAAAAAAACQHAgCAB4AAAIACyQBAAAAAAAAAAMAEwkQDwAAAAAAIgAABQ0AAAIAAAgAHgAAAAAAHQAoJwQATBYAAAMAAAAADAAhMBkADAAJAA0KBAAkDgAAAAUlBAAAAAA3AAApAAAFFAAAAAAAAAAbAAAAAAAAAAAAAAwAAAAAIwAAAAAAAAAAAAMAAAAAEQAAAAAOAAAAABgKAwAAABAAAFUFFwASAAAAABMWAAAGAA4BKQAABygAAAAAAAAAAAAAAAAPAAMlHhYqABolAAAUACAAEAAdDwA/ESoAGBAAAAAGExUNAQAADQAFKQAAAAAAAAAAFwUOGAAYGQ0AHwAAABcQAAAAAAAAAAAAAAAFAAAAAAAAAAAAAAAAAAAAAAAAAAAAEwAAAAAkAAAAAAAAAAAAAAUAFgYgBgAZAAAAEAEAAAAAABcAAAAAGQAADQAPAC0AAAACHQACAAAALRAIAAAMAAAACQAAFQsAABUAAAAMAEUSAAAXEQAXIQAAAAABACIAAAwpAAcADSgeAAMALhYABgAAFQAAABMABwAAAAAAAAAAAAAAABIAKwAAAAAAAAAAAAAAAAAAAAAAAAAKAAAAAAAAAAAAAAAAAAAAAAAaBgAZAA0LAAALCwAbBQAAAAAAAAAAABgjAAEeGwEAAAAGABoAAAAAAh8iBQANGwAUGAAADwAXJQsAABsARAkADQEWABAQAAgBFQAlAAcfACIACAAaAAAAAAAACwALFwAAFQQABwAFAAAAACQAGAAHAA4AAAAAAAAAAAAAAAAACgAAAAAAAAAAAAAAAAAAAQAAAAAIAAAAAAADAAAAAAAMBQABABgzACwACQAMAAAGABgNCgEADAAAHAwADQAAAA4ACAAAAAQAEgAACQAMAAAAGwALAAAKAwBDKgsAKgAAAAAAKAAABAcAAQQAAAAAACQFAAA0CBUAAAAACSESAAAKEAAmAAEAAAAAAAAAEQAPAAAAAAAADAAAAAAAAAAAAAAAAAAAAAAAAAAAAAAAAAAAAAAAAyEAAAAACAAAAAAAkG5eCwAAAAQWAAAAAAAAAAYKDQAAAAAAAAAAIwAUMiEDAAwAAAAAAAACKREeEgAAFgAAADwAFikAAAALAAAeGRMAABMADAAAFgAAAAAAAAcACQAEAAAUAAAOAAYAAAAAEAAAAAUAAAAGAAoAEgAAAAAAAAAAAAAAAAAADAAAAAAAAAAAABoAAAAAAAAAAAAACQYAAAkQAAAfAQBVkF5VABUQAAAAHwkADwAlBQAHAAAbAAYAHQAKFgAAAAAAGgASAAAAEgAAMA8ANAAIJSEAAAAKAAsAAAAOAAMEAAAAEQEFDAAAAAAAAAAAAAAAAAAJAAUACQIAAAAcAAARAAAAHwAAAAAAIAAIAAAAAAAAAAAAAAAAAAAAAAAAAAAAAAAAAAAAAAAAAAAAAAAQAAoAAAAAACYEACQACVUPAAAAGBMAABAJACUsBAAdIQAADgkoCCIRAAAGBiwfAAAACwAMABIAAAoAAQEAEAAAGQAACgAAAAIACAAAAAAAFB4mAAQiAAAcAAAADxoAAAAKFQkAFAAAAAAAAAMAIQATAAMAAAAAABMAAAAAHwAAAAAAAAAAAAkAAAAAAAAAAAAAAAAAAAAAAAAAABwoAAAAFi0bEQAAIDUzAAAAGxAAAAAAABcALAAGABYAGgAACQkfAAAAACUABwAAAAADAAAAAAAAAA4AAAAAAAAAJQAKFQAdCAACFgQAAwIODAAAAAwAAAAZAAAAAAAAABYAHgQAAAABABYAAgANABsAAAAAACgAFgAAAAAAAAAAAAAAAAAABAAAAAAAAAAAAAcAAAAAFwAAAAAAAAEFFiALAAAAAAAAFAAAABcAGyUJIBMNEwMAAAAUAAAAEAAmAAAAFgADABEiABUACQwAAAAAAAAAAAAAAAAAAAAAAAAAAAAZAAAAEQkZAA0ABw4RAgACADwADiwAEAMACSQSCwAAACoAAgAZABMAEwAAAAAAEwAAAAAAAAwAAAAAIwAAAAAAAAAAAAAAAAAAAAAAAAAAAAAAACgHHREEAAAFAAAeCiAAEgAFJgUAJQAaAAAeDRUAAAwAAAsEBwAAABQADRoIACYkAxYAACUHAAYGAAAAAAAAAAAANAALAB8AAAcTACQAABQQAAAAGgsfAAgAGgAdABsADQAFAAAADQARBgACAAAAAAATABYADgADAAAAAAAAAAAAAAALAAAAAAAAAAAAKQAAAAAAAAAAAA0AAAAAGAsSACUAAAAAGwAAAAAAAgAjEw8AAAAYDR0AFgAAFQAAAAAAAAwBAAAfACYAJQAADxwAIAAAABUqAAAABgIAABMIAxUKEQAAAAAAGhAAFAAJAAAAAAAADgAAAAAdIgAbCwAAABcAACYAAAAACwAkACEAAAAPABMAKAAAAAAAAAAAAAIAAAAAAAAAAAAAAAAAABEAAAAAAgAAAAAACwAYAAADAA0dDxgABwoGAAAtEwwPAAAAAAAAACwAAA0AAAAGAAAAABMABwAVFAAABQAAAAAAACQVAAAAAB8ADBASFyMOAC4AAAAAAAAAGBUAFggsAAAaAAAAAAAKCBUCABAADQAAABEAAwAAAB8AAAAAAAAAAAAAAAAAABMAAAAAAAAAAAAAAAAAACQAAAAAFQAAAAAAAAAAABsAAgAAAAkAAAAGBw8oAAACAAQAAAUACAATBQAAFC0eACkTABoALCQAIBcAABUdAAAaABMQAAAFDhoLAB4AAAAGAAsAEwAAAAACABgMAAALGQALGQgVAAAACAAAAAArAAAUAAAAAAAAAAAAAAQAAAAfAAAAAAAAAAAAAAAAAAAAAAAAAAAAAAAAAAAAKgAAAAAAAAAAAAwAAAAAABMAAAAAAAAAAAAdAAAAHAAAABcAAAAvABsLAAAAAAMAERYSGQAACAAAAAAAABIAAA4ABhEAAxIAAAUAAB0AABE0HSQAMwAaARwAJwAAAAAAKQAAAAAAAAAFAAIAAAAAACMFICMAABAAAAAAAAAAAAAACQAFAAAABQAAAAAjAAAAAAAAAAAAAAAAAAAAAAAAAAAAAAAAAAAAAAAAGQAVAAAXAAAAAScCAAADACAAACgAAAQAAAAVAAAABTwAACsIAAAoGQALDAAAADMAABQAKgAABwAARQAdIwAAACYIGxEKABcQEQMALAAAAAAEAAAAAAANBR0AAAAABQAAAAAAABcEDRMmBQAAAAAAAAAcAAMAKAAHAAAAABcAAAAAAAAAAAAbAAAAAAAAAAAAAAAAAAAAAAAAACYZAAAAAAAAAA4UCAAADwATAAAWAgAEABsALAAAAAAAAAAAAAwUCAMUABUAAC4gAAQAABIAAAAAAQAAAAADAAAXJgAgBhgAAAAMABkBCQ8DAAADAgAAAAATAAAZACIACAAeCQAAAAsACgAAAAAAAAAAAA0AAAAAAAAAAAAAAAAAAAAAAAAAAAAAAAAAAAAAAAAAAAAAAAAAAAAAFA8AAAAAAQAAAAAAAAUAACEAAAAAFAABAAYAAAAKAAAIACMgAAEAAAAAAAAAACgIFxUOAAABCAAeLgADAA4IAAoNABcAIAAJAAwAFCkAAAAAIQAHAAAAIxAEABMUAAAPAAAACAkACwAAHQ8ACwAIAAAAAAAAAAAAAAAAAAADAAAAAAEAAAAAFAAAAAAqAAAAAAkAAAAAIgAAAAAAAAASBwAqBQUAMAAAAAAkAAAWAAAJAAEADQ0AAAAAJwAkAAAAAAAAABATEwIAACsAAAwABgAZAAECEwwAAAAAAAADGxcPAAUAAAAAAAAAAAALABwLAAAAAAUAHA8ABgAAAgYAJBwQFAAAAAAWAAUAAAAAAB8AEAAVAAAAAAAAAAAACAAAAAAAAAAAACcAAAAAAAAAAAAAAAAAABwAAAAACwAAFAAAHgYQAAAgHRoiAAANAAAkAAAAADkGABYAJQAXAAADAAAAABEMJg4AMQAFAAAVAAAAIgADAAAAAAgkAAMAAA8cBgAABDwAAQIAGwAQAAAADgArABEVBQAAGwAAAAAAAAAOAAAAJAAAAAAAAAAAAAoAAAAABQAAAAACAAAAAAkAAAAAAAAAAAAAAAAAABQAAAAADQwAAB4FAAAtAAUAJRoGAAAJCgAAAAAAAAkAGwAAAAAcAgAAAAAAAAAYAAAAABMABSQEOBAAAAgADQEAAAAQAAAAAAAAAAADGAwAABsIAAAAABMAAAAAAAAAAAsYAA0AFwAABAAdDAAAJgQAAAAAABUAEAAEAAAAAAAAAAAAAAAAAAcAAAAAEwAAAAAAAAAAAA4AAAAAAAAAAAAAAAAJAAsADgAAABAADwADAAQJBQAAAAcAIA8AGxIjAAMACQALAAcOGAQAAAAAJx0AAAAABAA+AAAAAAAAABcAAAAAEAAAAAA5NQAAAAchDRMAAC4AEQAHDTUAABAACwAAAA0AAAAACgkQCgAAAAAAAAAlAAwAJwABAAAAAAAAAAAABwAAAAAVAAAAAAAAAAAAMAAAAAAPAAAAAAAUAA4AAAYAAAAKABwAAAAtGgAAAAAAAC4bFAABAQAAAAAAAAATCwAFAAkKAAAAAAMAHQAAABIAAAYAAAwnAAAWCQACAAcAAAEeAAAIJAAAAAAtGSQNAAUAKgADAwAmAAAAAAAAAAAAAAAAAAAAAQAAAAgAAAASAAcAAAAAAAAAAAAAAAAAAAwAAAAAAAAAAAAAAAAAAAAAAAAAAAQbACEABgAAAAgAFQAAAAkUAAAnJB4ADQAXAAEAAAENIQAAGAAZABUZAAIAAAAAAAAdABwABSMWFRAADwANAAASAAAAAAAABQAAAQAGDAAADAAPAA0AEQAAAAAhAwAAAAAAABgAKQAIGwAAAAAAADoAAAAAAAAACgAAAAAJAAAAAAAAAAAAHwAAAAAmAAAAAAAAAAAAAAAAAAAVAA0PAAAUFRIACSQVBAYECgAAAAAAACAPAAAAAAAAFQALECEHAwAAABAAIw8ZGwAKAAANAwAzCwAAHQwAAAUADCQANwcrFwAAACwADQAeLSsAEQsAAAAAHgwAAAAAAAAAHgAAAAcBAAAOEAAUAAAAAAAAACEADQAAAAAAAAAAAAAAAAAAAAAAAAAAAAAAAAAAIwAAAAAoAAAAAAAMGQ8DAAAAEgAQAAAAAAcAJxEAAAIAJgAaCxMABCsACAQAAAwAKgAABQAXAAAJAAAADwALAAAAAA0ABxYABAAABwcAJCkAACAMFAAAAAAOACIQAAAGABYAAAAAJAAAAAAtGAAAAAAkHgAQAAAAFwAAAAAAAAACAAAAAAAAAAAAAAAiAAAAABEAAAAAFAAAAAAAAAAAABYAAAAAABsAEAcAAAAAAAAAAAATABgAAAARDwAAAAUMAAAAAAAABxAAACQKKgAACgAVHzkQABoAABUACAAADAEADgACAAMiAAABAAAgAAAAJwAcABsAEAsAAAAAABsAAAAAAAAlABoAAREAAA0AGQAAAAAAAAAACAANAAAAAAAAAAAAAAAAAA0AAAAAEQAAAAADAAAAAAAAAAAAAAAAAAAkAA0AFxQAAAAuChgAFAkGExYAAAMAAAQAFAgBAAACAhUUAiMACgMAADMAAAAAEAoOAAQAEAAAAAAXAAwCAAsAAAwAAAMEAAAAABwbLgMAACMAHAAAAAAAGwAAAgAIAAMAAwAACSEMBQ8CCAAAABkAFAAAAA0AAAAAAAAAAB8AAAAAAgAAAAAVAAAAAAAAAAAAAAAAAAAOAAAAAAAAEAAABgAADQAABwAAAAMAIwYCDAEAFAAAABQAFAAAAAAgAAAAAAAYABcVAQAAFwwSFDsTACoAAAAAABgyBwAAAAwmAAAAAAEJAgoAEw8AIAAAAB4EAwAAAAAABBoABwAHAwMACQAAGwANAAAAGQAAABsAFgAXAAAAAAAADwAAAAAAAAAAAAAAAAAAGAAAAAAAAAAAACEAAAAACwAADh4ECwAAEgANIAIAAAAAEAAAGgQAAAALAQAANhkAEgcAAAAAAAgAGwAIAAAAABsZAAAAKBgAAAAAAAAAAAAKGB8ADQAWAAAUAAAAAB0AGwAJBAAAHwQAAAEAAAAAAAAAAAAZDRQAAAAAAAALAAgADwAaAAQACwAAAAAkAAAAAAMAAAAAEQAAAAAaAAAAAAAAAAAAAAAAAAAACAAIAAAUAA8AACIMAAcAAA4ABQAAAAAAAQAAAAAAAAAREgAiACoUFAAAAAAVDAAAJQ4UCwA2CAA3HgUAAAAAFQULAAsAAAwAAAAtAQAAIQAgAAAVBwAHHAAAABYADwAAAAAACRcAAAAAIgAcAA8AAAACABEAAAAdAAAAAAAAAAAAAAAAAAAAAAAAAAAAAAAAIQAAAAAAAAAAAAAABxsAAA8KAAMIABMEEzMRAAQBABkAIQARAAUAHgAAEQAbAQAAAAAAGR8AAAEdAAAAAAAHCQcADwAAEwAADgAXEAATABIADBsrAAABIAIOAwAAEgACABkUBgACABoAAgAtAAAAABYAAAAlAAAAAAAAAAAAAAAAACcAAAAAAAAAAAAAAAAAAAAAAAAAGQAAAAAuAAAAAAAAAAAAEgAAAAAnAAAAAAAJAAIADwACAAAiCAAWEwcjAgAAAAAAAAAAAAAAGAAAAAAFGSMJFQAAAAAAAAAADwAAAAAAAAcYAAEiCwAAFAAZAAAAAAAFAAAAAAAAACoAABEKEQAZACgAAAUgAAAAABMAAAADABIAAAAAAAAAAAAAAAAKAAAAAAAAAAAAAAAAAAAAAAAAAAYAAAAAAAAAAAAuAAAAAAAHABAoEAAAICIAAAgAAAkXHgMAAAAJAAAJBhYAATAGFgYAACEAAgALAAAMAAAOAAAaAAAAABAAAAAAAAAAAAATAAwAAAAAABMAAD0AAAAADAAAEwAAFAACCQcALAAbABMHAAAGDAAAAA4AAAADAAAAAgAAAAAAAAAAAAAAAAAAAAAfAAAAAAAAAAAABAAAAAAAAAAAAAAoAAARBQ8XEwAPAAkAABAAAAAAAAMDIQAADwAAACEAGgAAEAgcGhMAFwEAAAEABgY7AAAACAABIhcAAAAZAAAPAAAAAAQAAAAKACMFABIGHQAhBQAGDAADAAAAAAAZAAAJAAAAGAACAA8AACoAAAAWAAoAAAAAAAAAAAAAJwAAAAAAAAAAAAAAAAAAAAAAAAAAAAAAAAAAAAAAABcAAAARAAAOJQAABQATEQAAAAAUAAAABQAAABIAAAAMCwAADQAAAB8AAAAAAA0QAAEACQkAEAAAFjEAAAAAAAAkABQABwAKAAASAAcAAB8MEBYADgcAAAAXAAAAGQAABwAAABIOABEADQ8AAAAWAAAABAAgABcAAAAAAAAAAAAAAAAAAAAAEwAAAAAjAAAAABgAAAAAAAAAAAAADgAREQAAADIXAAARJQAjBwcAACITBREAAAAAABEaAgAAHxUACgAiAgArAAAAAAAHAAAOAAAAAAAAACoAAAAAABMpDAAcAAYAFR8TAAAIACYAAAkAAQAwACcAABYAAAAAKQAdAAAfCAMADAAAABIAAAAcAAAAAAAAAAAAAAAAAAAACwAAAAAUAAAAAAAAAAAAAAAAAAAFAAAAABUcKAAIAgAGACEMAAAAAAA5AAAAAA0AAB0xAAAAAAAAHw4wFwAAAAAHAAAAABYEHgAACwsOAAAMAA8AABQOEQAAAAAtAAUAAAgIAAINAAAAAAgAAAAAAAoAAgADBgAACQAMEQAALQAMAQAAACMAAAAYACQADAAQAAAAAAAAAAAAAAAsAAAAAAAAAAAAAAAAAAAAAAAAAAAAAAAACQApDgYAAAAAMwAHGgAPHCQAAAAKFB4AAAAPDQcADRAbAAApIwAACQAAAAAAJQcYDAAJACEAAAAUHQAlAAAnABICEQAAEQAIAB8MAAgAABIAAAAAEwAIABcAAAAEAAAVAAgAJAASAAQFAAAAAAAAAAAAIgAAAAAAAAAAAAAaAAAAABAAAAAABQAAAAAAAAAAAAAAAAAAAAAAAAAALQAACgwUACAAAAAKAA4ADwwSCgAAAAAACgAAAB4AAA4kAA8AAAAfBgAACgADAAAwACcADwAgAAAAABQOABIABCwAAAAKAAAAAAkXBRUSCgEAJQAOAAAAAAAAAAAAAC0AAAAiJgAjAQAAJAAIABcAAwAOAAoAAAAGAAAAAAAAAAAAAAAAAAAvAAAAAAAAAAAAAAAAAAAAAAAAABEFIwAAABsAACYABAEVAAACAxQAAAAAAAELLQAEAAgAAAAACAAPABMAABALACEAARAQAAAIAAAlAAAOAAAFAAAcAwgQAAAAAAEZFigGAAAHADgtAAAAAAACAAAAIgAAAAAIEAcdAAAMAAAAAAEAAAAKAAAAAAAAAAAAAAAABAAAAAABAAAAAAAAAAAAAgAAAAAAAAAAAAAAAAAALhYABQUAAAAABiUJAAAVFgAAAB4AEAAWAAAVAQAAAAAINgAbAAAAABoAACgZGAAFCAAAAAAAACEAAAAAAAAAAAAIFSkFAAAAFCMLHA8AGQACAAAAABsAAAkTAAADAAAAAAABAAAAAAAjACkAHwAJAAAAAAAAAAAADgAAAAAUAAAAAAAAAAAAAAAAAAAAAAAAAAkAAAAAAAAAAAAAAAADBBoAABoAAAMVKAIAAAAOCxIACgAAABsAHAAAAAAAAAACBwEaIAYAKwAfFgABABUAAAAAFCYAAAEiADIRAAAABxENABAAFgwAAAAAAAsGCBkAAAQAAgAAAAAgAAAAGgwAAAAACgAADwAmAAMAAAAAACMAAAAYAAAAAAAAAAAAAAAAAAAAAAAAAAAAAAAADAAAAAAAAAAAAA8HAw4DAAwEABIAAA8LChEAABgAAAAAABQAAAAAAAAALw4dGgAABQoAAAAAAAACACEQAAAAABwAAhgAAQAHAAAAEAAIIwAAADMAAAkAHQAABxAADgAXAAAAAAAACgAAGAAeHAAAAAAWAAARADYAHwAAACgAGAAAAB4AAAAADwAAAAAAAAAAAAcAAAAADgAAAAAAAAAAAAsAAAAAAAABAAASEQAACAAACgALNgAACwAAAAoGAB0ADQAsAB4AABYJAAQABgAXAAAAAAAAAAAAAAAABgYACQAhAAAHAAAZABkTEQAAAAAAFgAACh8ABwIODhQAAAAPAA8ECgAAAAAAAAALAAoDAAAAAAAAACEAGAAAAAQAAAAAAAAAAAAAAAAAAAAAGAAAAAAAAAAAABIAAAAAAAAAAAATAAMhEhsCACQeMA8ZLQAiAAkAAAAAAAAGDRsCAAADAAAIAAAAAAAmAAAJAAAAAAAAHwgAKAAoDggeAAUAAAAAJQAAAwAAAAAAAAAAABooAAwADAAACQAQEgAAAwAMAAAAAAAODwYAAgAgLwAaAAAAFQAOAAAAAAAVAAAAAAAAAAAAAAAAAAAAAAAAAAYAAAAAAAAAAAAAAAAAAAAGGhwAAAABIQUIABAcAAAeAQAKPAEQBgMPABMAGgAACAAVAAAAERoAAAAAAAQACAAAAAALABYfAAMMAA8BGwAAAA0RAAAAAAAJKAAgAAAAAAAAEAAAAAAgAAAAGAAeAgAGAAAcHS8PAAACAAgACQAAAAYAAAAAAAAAAAAAAAAAAAAGAAAAABsAAAAACwAAAAAAAAAAAAAAAAAAADQAAAAAAAAgAAAAACkAAAAcAAAAAAASAAIEJAEAHwAAAAAPEhQGERAHKgAAHgAABw8PAAAAAAEAEQIbAAwAAAAIFRIAAAAAAAAAAAAAAAIUAAABCAAAAiAAAA8jABIAAAQAABEIBAAADAcAGQAUABAAAAAAAAAAAAAAAAAAAAAAAAAAAAAAAAAAAAAAAAAAAAAAAAAAEgAAAAAGIAAOAAARAwAmAAsJFQAPAAAAACMAACEAAAAAAAAAAAAXAB8IAAAACAAMAAAACAATABMAHAAyMQ4ACAAAAAYADwwEAAIAABQHCAA9MQ8AAAAAJgAAAAAAADIACAIADhQAAAAAAAAAAAAIBgALAAQACQAFACQADAAAAAAAAAIAAAAAAAAAAAAAAAAAAAAAAAAAAAAAAAAAAAAAABMdPgAAAAgAAAwAEyghFAYVAAAAFBQAASsABwAAJQAXBAYJBwAAAAAXBQAAEQAAAAkFHwAAAAsAFwAAGwAfAAAIAAMAJwAADgAACxQABQMAAAAAEgAjABoVCwAVFwAACwAAAAARGAAAJhAAAC0AAAAAAAAAAAAAAAAAAAAAIwAAAAAAAAAAACQAAAAAMAAAAAAWAAAAACkAAAAAFBIRAAALAAABIAAAABsAAAAAHCEAJg4ODwMaBAASGQwADBoAAAA6AAkACAAAGwsACAAeEAAADwAAEhYADAAmAAAjADoMAAAOAAEAAAAAAB4AFzELAAsAAAAAAAAALRYCAAAAFwAIAAAbACMAAAAdABoAAAAAAAAAEAAAAAAAAAAAABcAAAAAAAAAAAAjAAAAAAAAAAAAAAAAAAAAAAMAJR0AAgARAAwPAAAAAAAADgAAAAgfJQASAwAGDR0AAAMKAAAHAAAAIAAAAAALKwAAAAAAACAMCwUAAAoAABALExwKABUWFQ4HAAAABgAAAAAtAAAABQwAEgAcBBcAADECAAAAJREAJgAAAAAACgAQAAAAGQAAAAAAAAAAAAAAIQAAAAALAAAAAAAAAAAAAAAAAAAAAAAAACMqAQAAABIAJiMSAAAYIgkAAAAAAAsLJAAAGyAAAAAEAAAAAAAQAAAAAAAAChUaKAAAAAAAAA4JFA8AAAAeAAAAACAtAAMAJwAAACMXABIgAAAAAAAAAAAAAAANAA8pLQAAAA8ADgAQDQAUAAAABQAFAAAAAAAHAAAAAAAAAAAAAAAAAAAAAAYAAAAAAAAAAAAFAAAAACIAAAAAAAAAABcAAAgeGAAAAAsKAwAAAAARAAAACQAAAAAAFgAaHAAVAAAAAAAAAAgFAAAAHCgAABIAAAYTAAAAHgAgEBsRABUTAAAHACAAFAAAFRIADQAABhEAACMAABAANgATAA0RAAAACgAKHAUAAAAAAAAAAAAVACcADAAAAAAAAAAAAAAAAAAAAAAAAAAAAAAAABoAAAAAAAAAAAAAERkSAQAAABsAAAUXAAAtEgAAGwAAAAEFABEAABYAAAAAKBYAAB4AEwAAAAAACgAACwgAAAAaDgAnBAUPHgIAEgAAGh8JAAAJCQAAAAAAAAAAAAAiEAAAABoAIBQAAAAAAAAAAAAAAAMAFgAGAAUAEAAZAAAAAAAAAAAAAAAAAAAAAAAAAAAAAAAAABUAAAAAAAAAAAAAAAAAAAAAEBMZFAAADQYYAAEAAAAfOwAABgAAAAAAABYAAAAWFy8EACEFEAABHAAQAAAHAAUIABMABAAGAAAYAAMsAQAAAAAgAAAAAAwdAAAAAAIAABAeAAAAAAAfGwAODxYACgAAAAAAEQAAAAAAAAsAAAAAAAAAAAAAAAkAAAAAAAAAAAAAAAAAAAAAAAAACwAAAAAAAAAAABEAAAAAAAAmBgAAAAAdAAAeAAAAAAAcCwAAFAAAAA0SAAAAHAAINCkAAAcMAAAPAC8PKAAUCiQAAAAAAAAAAAwAAAAAABMAFQAXEQAAAgAAAAAAAAAAABcAAi4AHQACAAAAFQAmABYAABoYGQobACsAAAAAAAsAGwAAAAAAKwAAAAAAAAAAAAwAAAAAAAAAAAANAAAAAAAAAAAAAAAAAAAIAAIHAAAAAAALDRQAFQAAAAUAAAAAAAAAACEAABYUAgADAAAVAAAEABcDCRYKDgAABwAAAAAABggAAAAAAB4AAAwAAA4hAgAAAAAnEwAAHAsAAAoAAAAQAAAAHAAAAAAAAAAhAAANAAAACQAAAAAAHwAdAAQAAAAAAAAAAAQAAAAAAAAAAAAMAAAAAAUAAAAAAwAAAAAAAAAAAAAXDgAAJh0AAA4AAAcAFjgADA4AAAAADQAKAB0ABAYACwAAAAAKACUOFQAlAAAAAAAAEwAAAAYVFAAACwAYAAAhLBYUAA8AADYADQc3IhYhGAAAAAAaAAAAAAAAABAAAAAAABYRAAABAAAVABwAAAAAAAIACQAWAAcAAAAAAAAAAAAVAAAAABwAAAAAAAAAAAAAAAAAAAAAAAAAAAoMAAAADAAcACAAAAwZIgAAAAAAAwAEDRYAAAAAGAAcAAAQAAAkLQAAAAAKAAEAAAAACRIAABYdHh8AFgAAAAAoDAAsAAAACAAIFQAAAAAAAAAADwoAEioNAAAAABoAAA0XAQ0SAAAHBAAAAAAdAAAAAAAmAAAAAAAAAAAAAAAAACQAAAAAEgAAAAAbAAAAAAAAAAAAAAAAAAAAABYAAAAAEhIYAQAAABYaAAAAAAwABwcNAAgAAAAAAAAAAAstAAANAAAJAAAAABgAAAABAAAAAAsAABAWAAAAAEEAAAAAAAAAAAAAGycACAAMAAAADgAAABQACCIAAAAALh4AAAQQAAAAAAAAABMAAAAAAAAAAAAAAAAAAAAAAAAAAAAAAAAaAAAAABoAAAAAAAAAAAAAAAAAAAAALwYACQAANQAAAAAeABMHAAAAHAAAAAAZHi0fDSIAAAsEABITExkADwAAAA8NAA4LAAAAAAAAMwMDEQMSJwAAFQEAAAAAAAAACQQAAAAXCxIAFQAAAAAKAAAAAAATBQAuIA4AAAAAAAAAABgAAAAAAAQAAAAAAAAAAAAAAAAAAAAAAAAAAA4AAAAAAAAAAAAAAAAAAA8AAAAAAAMAAAUAEAAhKQASMgYADwYBAAAQAQQAIQAABAAwAAA0AAAAAA4ALgAqAAAAADcQAAAADwAAAAAZAAAxAAoCAAAAEAYAAQAVACQgAAcAAAUSBSAOAAAAAAAuAAICAQsAAAAAAAMAFAgAAAAAAAAAAAAAAAATAAMAAAAAAAAAAAAAACIAAAAAAgAAAAAKAAAAAAAAAAAABAAAAAAANQAAABcAAAAAAAApGg4AABUGIgAAAgAADAAADRASAAAAFgAVJxcAHA0RABAAFxsFBQAAEgAGAEYAAAAABwoFAAAAAAALAAAbAAAIAAAAAAAAHwAFKAAAChEAAAENHwAAAA0EAAAAAA4ABgAAAB4AAAALAA0ABQAAAAAAAAAAAAAAAAAAAAAAAAAAAAAAAAAAGgAAAAAAAAAAAB8HGQAAHRUAAAsAAAoAHRcAAAAAAAAAGAIABhcADigALhkAAB8AAAAAEgALAwARAAAABgYAAAILCwABFxMPCAAACQAAAAAAFwobACEAAAUAFgcAFAkiAAAACgAAGAYAAQAZAAAUAAAAAAAWAAAAAAAAAAAAAAAQAAAAAAAAAAAAAAAAAAAAAAAAAAAACQAAAAAAAAAAAA0AAAAAAAAAAAAAAAAABh0ADwAOAgAADAAVAAgAABYTAAAIAAAKBwADAAcAHQAAAAARAw0EDBsSAAAAGwAXCwoAAAAAAAUbAAAaAAAABgwAHyERAAwADgwADgAAACsNAAAZAAAIABAGBAAAACMFFA0ACgAAAAAAAAAAAAsAAAAAAAAAAAAAAAYAAAAABwAAAAAVAAAAAA8AAAAABgAAAAAAAAsAABwAABsPBw8WDQARAAA3BQAVAAAAAAAGAAkADwABGyoIFAsiAAAACgAGAAAFDw0ACAAFCQANDwEAABMAACsAAAIAAAAAABQdAAAAAAAAEBQAAAIdAAQAGgADCAAAKwAdAAAAABYACQAAAAAAAAAAAAsAJgApAAAAAAAAAAAABAAAAAAWAAAAABwAAAAAAAAAAAAAAAAAAAEHAAAWIgAYGSEGAAAAAAAGEgAQCAAAACIeKQAAAQAAAAAlABIIBxIAAAAIKAAAAh0AIgIQABIAMCIEAAATAAAACgUXAB8ALhUAAAAAIQsAAAAADAAoAAAAAwAPJg8AAAAXAAAAAAQpAAIAAAAAAAAAAAEAAAAgABAAAAAAAAAAAAAOAAAAAAwAAAAAEwAAAAAPAAAAAAAAAAAAABgQHQAAAAAAAAATAB4AAAAMDhAAAAAAAAoAAAgAAAoADxQbABoAIgAAFhoIDgAAAAAAAAAAHR8FFhAAABMQAA0aAQAODQAABwAAAAIdEQAAAAAIAAsAAAAAAAAYHAQJABAAAAAAAB0BFAAAAAAAAA8AAAAAABsAAAAAAAAAAAAAAAgAAAAAEQAAAAApAAAAABAAAAAAAAAAAAAAHh4AAA4RACEAAAAHAAAAAAABAB0ADxsbAAAADQAWLQgdERkAAA0hAAEAHAAyAAIIFAAAAAAQDhkADSEAAAAAIw0AAAAkAAAAAAAAHS0GChABCQAAEgAAAAAADSsRAAAAABYAAAAKMScAAAABAAwAAAAAABEAIwAAAAAAACcAAAAAGQAAAAAAAAAAAAAAAAAAAAAAAAAMAAAAAAAHAAAADQcAAAAAAAAAAAADAAARAAAAFwAAAAAAAAAKAAAAESgAJgQAAAAABQAAAB0AJwAABQYDAAAAASAACQAXAAIABQsABAAAACAXAAAIKgAAAAAgAAAFAAAACgAAAAAACgUPCAAAAAAJAAAAAAABAAAAIQAWAAAAAAAAAAAAAAAnAAAAAAAAAAAAAAAAAAAMAAAAAAEAAAAAESgAFgQvAQkVABoAHiMeDAAAADATAAAAGQAAAAAZAAAWABAhGgAACwAAABQAABgAABYAAAAAAAAQAA4SAAAdAAAGAAAHAAAAEwwMNgUAFBAPCC4EABkADwALAAAAAAAFAAABAAAAAAAGEAUAAAAWAA4AAAAAAAgAAAAAAAAAAAAAAAwAAAAAFwAAAAABAAAAAAAAAAAAHAAAAAAAHgAAByUACQAAACMALBcKAAAAADQAAAAAEB0AAAAcFQAPAAAAAAUAFBwACQAADQAVBAAAAQAbAAAAAAUYCQAAABcAAAgAACgAAAAACC0ADgATIQAABA0AHQgAAB0CAAANGi0JAAAGAAAMBAAAABQAAAAXADAAFgAEAAAAAAAAAAAAAAAAAAALAAAAAAAAAAAAAAAAAAAAAAAAAAAAAAAAAAAAABEAFgAAAAAAEwAADCAAKRwAAAABAAAAAwAcAAQABhMAAAwAAAACFgYAABoAABkAABE2AgAAAAAdEwAiACUMAAENAAAAAAInGAAGAxMAABYAFQAAAAAVAAAAAAACAAMAAAAFAAAAAAAcAAAAHQAfAAEAAAAACgAAAAAAAAAAADIAAAAABAAAAAAQAAAAABAAAAAAAAAeAh8AAAAWKhMAAAoAAAAAEgAVAA0AIQAEAAAAAAwLAAAAABIPBRcAEgAMGw4HABAIAAQAAQAFAAMHABcACQAAAAwfEQAAFwMTAAAmEAsAAAAAAAAAABAAAAAABgAiABEaAAAAAA8iAAgAJgADAAAAAAAAAAAAAAAAAAAAAAAAAA4AAAAABQAAAAAAAAAAAA8AAAAAAAAAAAAeGxgAEB0ABhQAIQoVIgAMBQAMAAAWAAAAAAAAEwAAFwckAAgBAC4TCAAADRIdBwAQAAAAAAAMBgAMAAAAAAAAAAAAAAA3AAAAHwAHAB8AOAAUAAAMAAADACkAAA4KAAAAIh4QAAAABwAAGgAaAAoAGAAAAAAAAAARAAAAAAAAAAAAAAAAAAAAAAAAAAAAAAAAAAAAAAAOAAAAAAArFgAAEAMAAAAACAAAACMAKQAAAwAHABsAAEIkAAAGABMACQADDwAGAAAQAAkjAA4AAAIyAC0AAAsAAAAABAAAAAAHFwAAAAUpCBoADiQAAAQWABwZAAAAAAAVAQAJMQAAAAcBAAAAAAAAABUAAAAAAAAAGAAAAB8AAAAAAAAAAAAAAAAAAAAAAAAAFQAAAAAAAAAAAAAAAAAAJwABAAAiFwglABcAAAwAABIVFAAAAAAAAAwBAAAAAAAXIAkAKxIAAAAAAAAAAAAAAAAAAB4AJwAAEwAAAAAAAAMkBgAAAAAJHBkAAAAQFAAACQAUBAEAAAAbAAAZAAAFAAAUJiEZAAAAACsAAAARAAAAAAAgAAAAAAAAAAATAAAAABMAAAAAAAAAAAAAAAAAAAAAAAAADQAAAAAAAAsAABAACi0AAAQAAA0EJwAAHgAALxYAAAAAAAAAAAAAAAAaAC0LAAAAQgAAAAAAHBQZIwAAAAAACAAAAAAAABARDgAAAAEAGAAAAAAAAAAjDAIADQAAAAAAAAcWACcABQAEAAAEAAAHFAAAACMAAAACAAAAAAAAAAAAAAAAAAAAAwAAAAAOAAAAAAAAAAAAAAAAAAANAAAAAAsAHgAAEhUAAAAiAC4LAAAAABoeAAAAACoAEQAAFQoACwAAAAsNCQQEFgAiAAsPAAAAEhoAAAAGAB0VLwAAAAANJgcYCBYAAAAABi4ADAAABAkLACgAABkAAB8AABEAAAAACgMAAAARFhErABUAAAAAAAAADQAAAA8AAAAAAAAAAAANAAAAAAAAAAAAAAAAAAAAAAAAAAAAAAAAKwAAAAoAAAATAAAECyQQEwMAAAAAAAAEAA8LAAANACkACgAAIgAAAiIMAAAFABEAAAAAACcAAAAGACcAAC4AAAAAABIXAAAAAAAAACYACDMAAAAALAAHAAAAAAARAAAAAAISEwASAAAACAAALQAAAAkAAgATAAAAGwAAAAAPAAAAAAEAAAAAIgAAAAAAAAAAAAAAAAAAAAAAAAAACAAUABEEAAcIChwAABUABhIANhkAARIZABcAAAwAABEAABYAAgASAAIAAAAAABgLHAQAAAAAEhkAABUAAA0AAAAAAAAJAAcACgAIAAsAAAEAAA4AAAAAJyMAAAAPAAACACIADQYACx8ADAAVAA0AAAANAAsAAAAAAAAAAAAAAAAAAQAAAAAAAAAAAAAAAAAAAAAAAAAUAAAAAAAAAAAAAAAAAA0XEwAeAAAAHgAbNQAABAATAQApAAkCAAIgOQAADgAAAAAuGgAAIgAAAQAAAAAjABMACgAbAAAAAAATIQAAABcGAAAAAAAABycJBxEAABQAFQAkDgAABQAAHgAACBsAIRghAAAABQAKAAAAEQAFACgAAAAAJgAAAAAnAAAAAAAAAAAAAAAAAAAAAAAAAAAAAAAAAAADAAAPMwETFBUAABgAEwAACRcpGAQCAAAAKQIPIwAUBAAAABgAAAAAACkAHQwADg8cAAMJBAAJEAAALAARAAAqHQAYDwgAABAVEigAABgLDw8AAQAADgUAADgSABYAAAENABkAAAAoAAAABwAAAAAAAAAAAB4AAwAAAAAVAAAAAAkAAAAAAAAAAAAVAAAAABIAAAAAGwAAAAAuAAoABQAAAAAAIAAAKgAeCxYAAAAfAgAAFw4FAAAAAAAAEyYAAAASBwAAEgARJQAABgcADAAAAAsAAAAeFQkAAA4AAAAAABcpACQQAAUYGhQYABAQLgAAAAAAAAAAAAAAFgAAAAQJAAAPGwAAAAIAAwAAAAEAHgAIAAAAAAAAAAAAAAAAAAAeAAAAADcAAAAAAAAAAAAAAAAAAAAGHAAJAAAWAAAAAgAGCwAWABMABgMJCAcABwMAAAAAAAAJEgAALQASAAARABISBAAANgAAAAAAAAAACQAACwAAABEBABYAAAADAAAACgAAAA0AAAARACMXGAANAAAWAAAAAAAqAAAACwAAAAAAAAAZAAAACwAUABIAAAAAAAAAAAAAAAAAAA4AAAAAGAAAAAAAAAAAACYAAAAAEiYAAAAAABEBCgcADzIaDQANFAAKCgASAAATAAAgAAAhBQwdAAAmJQcAAAAAAiEAAAAWDgAAAAAAAAAAAAAAACISAAAAAAAUAAgKAB0ADQAQFQAVAAQIAisNAAgfHwAIAA0xAwcOABMbAAoADQAAAAAAIgAJAAAAAAAAAAAcAAAAAAAAAAAAIgAAAAAKAAAAACoAAAAAFQAAAAANAAABAywGAAAAAAAAAAAAAAAYAA8KGQAAAAAAAAAAAAAADwkADTcAARUAACgAJgAhAAQACwATIgAYAAACAAAAABcAABUAAAIAAAAALwAAAAMAABYAJw0AACYABgAAAAAAAAAcABkKAAAAAAALAAAAAAACAAAAAAAaAAAAACEAAAAAAAAAAAAAAAAAAAAAAAAAAAAAAAAAAAAAAA4FAAAYBgAQAgAADgAAAAwACAAAAAIAAAAAAB4VEhUAAAAAAAAALRIBGh8CABoAAAAFAAAAAAAFFhcqHgAIDAAAABoWADAAAAAhCAAFBwAEAAAAACYAACUAAAAAAAAPAA8ACg4AGgAAEAARAAAAAAAWAAoAAAAxAAAAAAAAAAAAAAAYAAAAAAAAAAAAAAAAAAAAAAAAAB8AAAAAAAAAAAAAEQsqABoAAAAABgAaFgAAAAABAAIFBAAMAAAUFgAAAAAAFgAAAAABAAQAAAAAAAACAQAhCQAAAAUAESgAABgAGAAACgAAJx4AAB0AAA8AAAAAAAAlAAAAAQAMAAAAAAAAAAAAAAAAAAANAAAAEQAAAAgAAAAAAAAAAAAAAAkAAAAAIwAAAAAAAAAAABkAAAAAFwAAAAAAAD8YDQAAABgAJA0AACETEh8iDwYWDgoOFxwAEQAAEgEAAAASAA8mAwMBAAAAAQALAAUPAAAAAAAEHwAAAQgFEi4AIhsHAAQAABIZAAMAFwAAESwiFQAABwAAGwAAABwVCQAAAAAAAAACEQAAAAAAAAAAAAoAAAAAAAAAAAAAAAAAAAAAAAAQAAAAAAAAAAAAGwAAAAAAAAAAAAAAAAsBGQEAAAUAACIAADULABYAAAAUAAAAAAAAABgAACYJAhESAAAlAAAQEQUACwAAAAoOAAEADgAfAA4AAAAAAA0AAAAACQkAACYAEwYAAAAdAAAAAAAAEwoAKAAAFQAAEAAAAAAAAAAAACQACwAAABkABAACAAcAAAAAFwAAAAAXAAAAAAAAAAAAAAAAAAAAAAAAAA4AAAAAHBUEAAASAA0ADQcIAAAOAAAAAAAHABIbAAEAGQAHAAoAAAEJAAAAAAERAAARAAAOFwAtJQAAAAsAAA0AACQAAAAAAA0IGQAAFAAQAAAAAAAAFAAADhoABgAAAAAAAAAACg4MAAATAAAAAD8AEwAdAAAAAAAMAAkAGwAAAAAVAAAAAAwAAAAAAAAAAAAIAAAAAA4AAAAAAAAAAAAPDwwFCAIABgAYAAASAgYAAQAAFQAAAAEAJQAMCAAAGwAQADAAAA0JAAkWFwANGwAAFwAEAAAAAAATAAAPAAAAAAAUACcAAAAaABIIBiUAAAAAAAAAEgQLAAAAADQIAAAqLAoKCgAKAAAADwACAAAAAgAKAAAAAAAAAAAAAAAAAAAAFQAAAAAAAAAAAAAAAAAAAAAAAAAAAAAAAAAAIRkADgIKAAAAAA4AAAAAFAgAAAAAAAAAFxMAAAASAAoTAAAQAAADCAAABAYAAAAdAAAaABwAIAEDAAAAAAAAABk4AAAAAA8AAAAAAAAADxMAAA4RAAAAAgAAAAAHABwCAAIKAAAAJQAAAAAAHQARAAAAAAAAAA4AAAAAAAAAAAAPAAAAAAkAAAAAAAAAAAAeAAAAAAAAAAAAAAYYAAAAEAAOAAgAEwAGAAAAABkADRQAAA0AAAAAFwAVFQYAGh4ADyoAAAYAAAYABRkVGSgABwEAAAAFCgAAAAA7AAoAAAAECwACAAAAHxkAESAKAAAAHQAGABEAAB0BAB8XOQ0bAAAEAB0ACAAAAA0AAAAbABMAFwAAAAAMAAAAAAQAAAAAAAAAAAAGAAAAAAAAAAAAAAAAAAAeAAgCAAcSAAAbAAAABwAPAAAADB0GAAwfDgQCAAAAAB4ABQAPAAAAAAAqCBMAGwAAABAqAAAAACccCAkADwAAFA0AAAAFAAABBQMAIwAAFQAAIgAGAAArCQAAAAAhAAAAAAAAABwAGAAAAAAAAAAAAAAhAAYAAAAWAAAAAAAAAAAADwAAAAAAAAAAADEAAAAABQAAAAAAAAAAAAAXBgwAAAARACUXAAApJgAAAAAAAAMACwAAGAAIBgAADQAPJgMABQAAACAAAAAzBwALAB4AABcXERYAABUDAAADAAANAB0ACwAGAAAWAAwAADgDAAARAAAJAAAAEwEAAQAAAAsFAAATAA0OAAAACQAJACQAGgAOAAAAAAAAAAAAAAAAAAAAAAAAAAAAAAAAAAANAAAAAAAAAAAAAA8PAAAABQAACQUfDwAEABQAAAAQAAAAAA8CIRsAJgAAEgAAEAAJGQAPAAANEhgALAASAAEACykABAAADCcuAAAABQAaCgUAGQAFAAAPAxwAAAcAAAcAAAAFAAsAAAsAACsMAAAABAAEHAEAAwAdAAAAAAAAACQAEAAAAAAAAAAAAAAAAAAAAAAAAAALAAAAAAYAAAAAAAAAAAAMBREAAAAFCBwhDwsABBMAEBIAGAoQAAAAEgEIAAAAEAAAEAQIAAAAAAAXAAANDgAiCwAAAAAPAAAqAAAYAAAAAAsHAAoDBgAQGgAAEgAAACgAAB8NDAAOAB0AAAAAAAYAEAAUDwsNAAAABgAQAAAAAwAWABAAAAAVAAAAAAAAAAAAAAAAAAAAAAAAAAMAAAAAAAAAAAAAAAAAAAAKAAAAAAAADwATAAAAAAAAAAANAAAAAAAqBQAAACEFEgAAFxoAAAAAAAAhAAAkDQIACwAAAAAAAAYjAAADAAAjCRwBAAUQHg4AKAAAAwQABQAAABYGAAwAAA0OCDcAAAA3AAAAAAAAJAA1AAAAIgAIAAMABAAAAAAAAAAAFwAAAAAAAAAAAAAAAAAAAAAAAAAEAAAAAAAAAAAAAgAACwAACQQAAAAUAA0SAAAAGwAZDxkAABUNEwAEAAAkAAARAAApAAAAAAAAFAgdABEAAAEADgMAHQQfAAAAAAAPCwAAAAAKAB0AFRgNAAAADQAeAAAAAAMAAAARHQAAFzAAAAAMAAAAAAAABwAAABkAAgAZAA0AAAAAAAAAAAAAAA0AAAAAAAAAAAAMAAAAAAAAAAAAAAAAAAAcAAAAACIAABgAAAAAKAARHBgAAAAAJQA2AA4RAAAWJRoACBcAAAAAAA4AKgAAAgwABi0AAAAFAAIAHgsFABUAACkLFAAADAsAAAAAABsAADIpAA4TAAAAAB4AAAkFBRoAAAMDBgAAAAAXAwAVABMAGwAAAAIAAAAAAAAAABsAAAAAAAAAAAAAAAAAAAAAAAAAAAAAAAAAAAAAAAAAAgAAAAAAAAALAAkAHAAbAAUsBQACACgYAAMAGAoAAA0GMQAACQQAAAAAAA0NCgAAGgAKEQAAAwkAAAAAAAAAAAUFAAEAABgDFicACwMAAAA9CgAAAA0AHxAALQkAAA0AAAAAAAAAAAAgAAAAAAArACsAGAANAAAAAAAAAAAAAAAXAAAAACgAAAAAAAAAAAASAAAAAAAAAAAAACkQDQAAABshCAAAAAAUAxQbAAAcFAsAAAADAA0ANwAAAAAAAB8UFgAAABgAAA0EDwAAAAQAAAAAJCEoAAAXBAAAABMSAAAAAAgAAAAAAAcAAAAAAAAAAB4AAAoAAAAQAAAAAAAPAAUEEQAAFgAAAB0AEgAbAAAAAAAAAAAAAAAAAAAAAAAAAAAAAAAAAAAAAAAAAAAAEAAAAAAAAAAAACAAADYAAQ4ABwACABwACQAAGQAAAAAvDwAAACAAFAoWAAAAAB0bAAAAAA4AAAAaAAAABQAPDQAlIQcAAQAAAB8AAA0AAAAkICMAABICDBkAHAAOAAMAAAAIAAAAAAAVHwADEAAKAAAAAAAAHwAAABAAAAAAAAAAAAAAAAAAAAAAAAAAAAAAAAAAAAAAAAAAAAAAAAAAAAggAAAABwgIAAwAGBwAAAAAAAAAAAAAHQEAABoAAAAAAAAOAAAADBsAACIAHgAAAAAJBhMAABwVAAwkAA0AIwASGQIQEx4FCQAAAAADAAAAAAAAAAMMFgAXABgrAAAvAAAAAAAAAAEAAAAAABkAAAAAABAAAAAAABAAAAAAAAAAAAAAAAAAAAsAAAAAGQAAAAAAAAAAAAAAAAAAGQAAABgAHBkNDxwAAA0AABAAJAAADQAdChEACgERBBsAFQAQCBYAAAAAAAAAIgAWACUuAAAaAAAAARANAAAWAAAgIQAGAAAAEBoAAAADAAAACQQAABAVAAAFACkQAAADAAYeAAAAAAAAAAAAGwAEAAAAAAAAABMAHQAAAAAaAAAAAAAAAAAALAAAAAAsAAAAAAAAAAAAAAAAAAAdGAAAAAcrAAAFGQIADAAAAAAADAAADhIKAAAAAA8AAAAAAAAAAAAAAA8BIgcJCAAAAAAACAgAFAsABwAAECgUAB8AAAAnAAAbAAALBAAZAAACDwYPABYAAAAAAAADKgIAAAAACjcAAAIAAAAVAAAAAAASAAAAEwADAAAAAAQAAAAADAAAAAAAAAAAAAgAAAAAAAAAAAAQAAAAAAMZAAAEABkxAQsaEQAGAgwAAAAAFRcAEQAYBQAAAgAAAAAAAAATBAAFAAAAABAAAAAJAAAAAAAADAIAAQARAAMWAAoJFwAAABMADA4aAAAFCQAAJgALGQ8AAAADAgQAFAALABcAABkSGwAAAAAAAAAZAAAAAAAAAAAAAAAAAAAAAAAAAAAAABsAAAAAAAAAAAAAAAAAAAAAAAAAHAAABAAeACcAAAAAFwAJDAAAAAAWABMAABMAAAkAAAAACCMmAAAAAAUAIgAAAAABAw8AAA8PBwEAABwMAAAsEgAAAAEYAAAoEgANFi8TAAAAAAAAAAAJABgVAQADAAAADxkRAAQxABoAAgAAAAAAAAgAEQAcABkAAAAAAAAyAAAAAAAAAAAAAAAAAAAAAAAAAAAAAAAAAAAAAAAyBSIAAAACAgAAAB0AEg8VAAAbDxs2ABMYBQAAAAAEAQAAGQ8UABgkAAgPAQAmEQABAAgSCgAAAAAAAAMHDAAAEgAAGgAAEgAAAAAGEgAQAAAADAgeAAAAAB4AABgAAAAAAAAAAAAAAAAAAAAAAC8AAAAAAAAAAAAGAAAAAAAAAAAAAAAAAAAQAAAAABAAAAAAJwAAAAALAAAAAAAWAA0ACwAFAAAAEAAADxMlGAoABRoADxkAABIAAC8AABICAAAAAAAAFAAAAAAYAAAGAQAkABUAAAAAEwAQFxcUAAAGACIAAAAAAAoACQAUAAAAFgAAAA4AAAAAFA8AAAAADBwZAAAYEAAHAAAAAAAAACYADgAAAAAAAAAAHgAAAAALAAAAAB0AAAAAAAAAAAAAAAAAAAAAAAAAABcEAAAAHQAAAAAAAA0AJQAAABUAAAgAAAAADgoIAAsCAAATAAQAAAAOEgwFBRMAACQNFAAAIAAOAAAYAAAAAAAGJAAcAwAAAAAAAAAAABUuAgAmABAADAAAABAACwAAAAAAAAABBRANABQAAAAAAAAAAAABAAAAAAAAAAAAAAAAABgAAAAAAQAAAAAAAAAAAAIAAAAAAAAAAAAABRokAAAmAA0VEAADEAUnJxgAHAAAAAAAAAAAAAgWFAEAAAAAABQAAAAAFwAABQcAFgAVAB4JACoJACANEAAAGhUAFAMAAAAAJgADAAMAGwAAHwAAOgAAJy4AACMAIxsALQAAIgAQAgAAAAADAAkAGAAAAA8AAAAfAAAAAAAAAAAAAAAAAAAAAAAAAAAAAAAAAAAAAAAAAAAAAAAACgAAAAAAAAAPABEAFgYAEhYMKgAUHQAAEwcAAAAPAAAAJBEAAAAHEgAEAAAAAAAZExIAABcYAAESAQ4cGgAAAAAAAAATCBoAHBMACAAAAAAwCAgAAAwaAAAAAAAAHAAAAxEAAAsADAAuAAAADwAAACAABwAAAAAAAAAAGQAAAAAAAAAAAAAAAAAAAAAAAAAAAAAAAAAAAAAAAhgKGQAAEBkAAAAAAB8EAAANHAkACxwABAAAAAAKABsaHgAGAAkKLR8CAwAXABUAARAADQMABAAAAAANACoeAh0AAAAVAAARAicAACcAACcRFgALAAEAAAkAAAAAAAAAAAAAAAAAAAIMAAAAAQAqAAAAAAAAAAQAAAAAAAAAAAAAAB0AAAAAIAAAAAAAAAAAAA8AAAAAAAAAAAAAAgABGwAAAwAeAAMABAAZACMABQAaFgAZFQUAAA0gBQAHCBIAEhYCAAAAGgAAABQJAAYAAAAXBhc2LAAlABAAAgAAAAAADAAQGgAAFwIAAAAAAA8AAAAAGjEAAxAHHAAAAAAAHgAfAAQAEgAkAAgAAAAgAAAAAAAPAAAAABQAAAAAAAAAAAAGAAAAAAsAAAAABAAAAAATAAAAAAAGAAAABiIAABACAAcUAwAAAAALJQAECwAdAA8LGAAAAA8ABAAAAAAMAAAeABQAFA0FHAAAAAAAADUTAAAEAAARACURAAIAABMADxcPHxoICg0ABxQpAAAkJwAsAB4GBwAgAAAAABIAABcAAAAAAAAHAAUAAAAAAAAAAAAAAAAAAAAAAAAAAAAAAAAAAAAAAAAQAAAAAAAAAAAAAAAMAAABJgARAAAAADIiAAAAAAcAAAAXAAAAAxEDACQLAAAAEgAADgAHAAMEGQQABwAAAAAgAAAAEQYTABMPAAAAAAoAABUAGwMAACUACyUAAAAAAAUAAAAAAAAAGgwAACAAAAAQAAAAAAcAAQAGABEAAAAGAAAAAAAAAAAAAAAAAAAAAAAAEQAAAAAAAAAAAAAAAAAAAAAAAAAAABISDgoZBAYABgAAAAAHABgeFgIMAAAdAAIAACwAAAQEDSkABAAAAAATDAMQABgAAAMAAAAHAAAAAAAADwAAASoNAAQAABccABsAAAYAGwAGAAAAAAALAAAIAAYAAAAAABcAADYWABQZAAAPABgAAAAAABUABgAIAAAAAB0AAAAAAAAAAAAAAAAAABAAAAAAGQAAAAAdAAAAAA8ABQAAChEaABYDABYAAAANGgAAAAAAAAASAAwAFicALA8AAAAACQAAAAAABAcAAAANDQAAAAAAAAYAAAAAAAABFwAaAA4CIQwAAAAVABEAGwYAExcAAAAPCwAWABsAAAMMABEGAAAACgAYACIAAAAAAAUAFAAAAAAAAAAAAAAAAAAAAAAAAAMAAAAAAAAAAAACAAAAAAAAAAAAAAAAAAAADwAACgABIwQAKxAACQAAABISAAAAABEhAAYAHAAAAgAEFQAACgARMAAhAAAfABQQAgANBQAgAAAAFgISABMABQAkHAADABkUDgAAAAAAAQANAAUAAAAAABMAFxcADxMAHQAAAQAAAAAHAA8AAAAAAAAAAAAAAAANAAAAAA4AAAAAAAAAAAAWAAAAAAAAAAAAAAAAAAASFAEADAAiEzcAAAseCwgHGRcHAAAAAAAOAAALEyUAGgYGAAAdBxwQAAACABQAHRoAACQAFwYiAAMAFAAADgQAORMSBwAWFwAWBS4qACsNGwAAAAAOKwAAABwOAAAGCCAAAAAAAAAAABEABwAVACwAAAAAAAAAAAAAAAAAAAAAAAAAAAAAAAAAAAAAAAEAAAAAAAAAAAAAAAAAABMYHgMADAAuAAAJJAMdAAAAAAIAGgAZAAAJEgAAFAAAADEAIx0AAAAYAAAABQAACwAAAAAAAB4qEBETAAEABQAAAAkhEQ8EACEXFyUAEgASGQ8qDAMQGQARAAAAAB8ABQAAAigAAAAAFgUAAAgAFQAAAAAAKgAAAC4AAAAAAAAAAAAfAAAAAAIAAAAAAAAAAAAAAAAAAAAAAAAAABgSAAAWAgABDQAGAAAAADEBFwAIAAALAAAPCAoAABQAKgAJEQANAAAQBiQWEAAmDyINAAAPAwAEIAAFKQ8GAAACIgAXAAAAAAAAABMeAAMeCQwAAA8ADxIRAAAJDgAQIikAHQYAAA4AAAAABwAQAAAAAAAAAAgAAAAAAAAAAAAAAAAAAAAAIgAAAAAAAAAAAA8AAAAAAAAAAAAaABQAEQAAFgAAEwADAyMAAAMAAAAACgAAAAAgAwAACgAAERQAAAAAABIAAA8AFBodCQAAEAwMAAwAIRcAAgAAIAIAFgMAAAAAEBcDAA8ACxIAHCcLAAAAABsABQ8AAAAAADIJFAAABgMAAAAOAAAAAAAAAAAAAgAAAAAAAAEAAAAAHgAAAAAAAAAAAAAAAAAABQAAAAAAAAAAAAAADBYBAAAJAAAQABwFAAABAB0AAAAAEQAXAAAAAA0ADAAAACEIFwADAAAAAAAAAAASAAAAEwwABwAcAAAAAAAABgAAFQIAACAAAAAQGgAdACUNACEtBwouAAAAAhcAPAAAABsAACkAEQA0AAIAAAAAAAAACgAEAAAAAAAAAAAAAAAAAAAAAAAAAAAAAAAAAAAAAAAAAA8AAAAAACARBB0PAAIAPC4ABAAAAAAAABIABgYCAAAAKAAAABIEAAAAEQAAABAJAAAbHgsPAAAPAgAKBxEAAAAlAgASAA0YABMAAQACLgAlFAAALB8BHgQIKQAAABIHHBcAAAAGAB4SACYfDAALACAAEgAAAAAAAAAAABAAAAAAAAAPAAAAAAAAAAAAAAAAAAAAAAAAAAAAAAAABQAAAAAPHgAAAAADIjkIAAAAJgAfAAAAADIlACYAAAAACQkTAAABCAAAIgAAIgAAAAAAERsAAgYNABEAAAQAACYAGgAGAAkbAAAAAAAUACcfCCoAAAAADBoAAA4AGgAAFgAAAAAADRYAAB0SAAsAAAAAAAAAFQAAAAAAIAAAAAAAAAAAAAAAAAAAAAAKAAAAAAAAAAAAAAAAAAAkAAAAACoAAAAaAAAAAAATEwoAAAsAEgASGQgJAAARAAAADQAaJQAAIScAHgAcCQAJGggAAAAAJgAAJQQAABIAAD0lBQAABSMjAAEAAAAACgAPFxIoAAAdAAkLFgAAAAAAEAAKFwAiAQYAOAUcCg4AAAAAFQAAAAAAAAAiAAAAAAAAAAAAAAAAAAAAAAAAAAAAAAAAAAAQAAAAAAAAAAAACCsAAQIeFAAGNQAAEwAWAAAAAAgKABsAACILADIAAAAHAAAAAAUHBh0AABoYHwAYACEAEwAKAA8QAAAAAAAAADAAAAAAAAAAAAMAIBsAAAAAAAAbABAAABQAAAAVAAwAAAAACgAADhIUAAAAAAAOAAAABAAAAC8ABgAAAAAAAAAAAAAAAAAAAAAAAAAEAAAAAAAAAAAAFgAAAAAXAAAAEgAHABsABwAAAAAFACgEAAAYACUAADYACAAjBQczABIEHwAAKAUSMREAAA8ZAAERACEQAAsAAAAAAAAAAAAVAAQAACQABgoAHA0iAAALAAAAAAoOABgAAAAAAAAAAQAAEQcUBAAAAAAAAAAAAAAAAAAAAAAAAAAAAAAAAAAAAAAAAAAbAAAAAAAAAAAAAAAAAAACAAAAAB8EBAAAHh4YABcAABASEQIIDycAABIAABEACgAAAAoZAAcANQAeCgAdAAAAABEABQQHHw4lKQYcABETACgAAAAABwgAFAwAAA0AAAoaEQIUAAABDwABABwjIAAVAAANCgwAFw4AAAwLACIAAAUAAAARAAAADgAAAAEAAAAAAAAAAAAQAAAAABAAAAAAAAAAAAAOAAAAAAAAAAAAAAA0AAAIAAAOAAcAJw0WAAEAAAAAAAAAEhQAAAAAAAAhAAABAAAaAAAAABAAAAAfAAofHQATAh4HIgATAAAhAAAfAAAAGRYAAAIBAAAGAAAHAAAAGAAIAAEJChoAABUAABMADQ0AAC0FFQAAAAAAACcAAAAAAAQAAAAAAAAAAAAAACMAAAAACgAAAAAjAAAAAAAAAAAAAAAAAAAAAAAAABAMAA0SDAAbAAAHBgAAEgAKHh0WAQAKAAAKAAobAAAABAAZAAAAABEQNwMLGAAAASQACwAAAAAfAAAAAAAAExgCABcfAAAAHwAAAAAbAA4WAAAACQEAAAAFAAAAMwAAAAAAAAAKAAAAAAEAAAAuABIAAAAAAAAAAAwAAAAAJQAAAAAAAAAAAA8AAAAAAAAAAAAFAAAAAAAAEQAAABcAAAwAGBIAJwAlAAgAIwsWAg8VAAAAAQAADggHGw8AACMKAREhDgAnAAIuAAAeCgAAAAAAABEAAAAGLwAlAQAAICACAD0NAAAAABoAAAAbAAAAEgAAABISOhMHByMABQAAAAAYABEAIAASAAAAAQA9AAAAAAAAAAAAAAAUAAAAAAAAAAAAAAAAAAAHAAAAAAAAAAAAFAAAAAAAAAAKAAUAAAALAANGOAAMIxsWAAAEChUAJBQAAAAACQkAAAAJAAAAEB0ADQAAAAAAAAAADgAAACUAAAsAAQAZAQMAJwApAAA0DRMAAAAAFBURAA4FABYpBwASABUAFwANABQKGyYAAAALAAAAAAAiAAAAAAAAAAAAAAAAABMAAAAAAAAAAAARAAAAAAAAAAAAAAAAAAAAAAAAIQkQAAILACgBDAANFiAfAgAABAAAIQAAACYAIgAnAAAAABMAAAAfAA4AAAAAAAATIRIAACMIHAEAJAAAAB4AAAAAABkNAAQAAAAAAhkKABIICAoKAAAAAAEAAAgYABYFGgAAAA0NCwAAAAAAAAAAACcAAAAAAAAAABsAAAAAAAAAAAALAAAAAAAAAAAAGwAAAAAAAAAAAAEDFwAAAAAFEgAAAAAKJAAYMB4dAAAHAQAAAAAABAAACgAhAB0AAAALAAAEAEAAAAoiAAAACAAAABAhACoACgAAAgAKABEAAA4AETsAAAAaHxsAAAcAAAsXHQcAAAANACIACwAAAxgFAAACAAQADAAAAAAAAAAAACkAAAAAAAAAAAAAAAAAAAAAAAAAAAAAAAAAAAAAAAAAAAAAAAAdJwAKAAAeCQAAAB8cNAA/OjoAACIIAAodAAEBAAAqAAArFQAaFQQAAAAWKS8AGx4GACAAAAAAHyoAAAoAAAAAGgAYABYUIQAAAAAAAAkAEQAAAAAAABg1AAAbAAAAAAcAAAAAKgAAAAAAAAAAAAAAHQAoAAkAEQAAAAAAAAAAAAAAAAAAAAAAAAAAAAAAAAAAAAAAAAAAAAAAAAAAACAaHikkAAAAGgAAAAgoAAkAACUAACUAAAAGEgMFEgAAIgAADgAAACQBAAAYBgAAAAYAARAAMgAAIAAAARcOACgfCwAAAAAAAgAAAAAAAAMeAAAAAAAACwoOAAAYABkADhYAAAAAAAADABQAAAAgAAAAAAABAAAAAB4AAAAAAAAAAAAYAAAAAB8AAAAAAAAAAAAEAAAAACQBABQCAAAAAB0YAAAAAAAAAJgADgEAAAEAAAAAAAACGyQAAAYJJwAZGQIAACEACgAPBwAAABksAAUeJQAAHwAABQAABAwABAAAABgIABQIFgAAAAAABAAACAAAEAAMBwASBwAAHgADAAwOABMAAAAAACMAAAAlAAAAAAAAAAAAAAACAAAAAAAAAAAAAAAAAAACAAAAAAAAAAAACBQRAAAAGRIPAAMACAAAEAAOiAkGAQ8gABcAACEEGCgAEgABAAATAAAACgAWAA8AAB4AFAAACSQACAACMSIAGwAAHxIAAAAAFwAAHR0FAAsAExooCAARABESAAgAAQAGAAEEAB0XBQAABgAAFAAAABgACAAOABcAAwAAAAAAAAAAAAAAAAAAAAAAAAAHAAAAAAAAAAAADgAAAAAKAAAADwAcAAAAAAAAJRAAAAqWKQAAAAAAABYFAAMOAAAAAAAAABkAAAAACgAAAAAAAAAAAAMAAAAkAAstEQAALgsAKwAAAAARAAIADwAAEwAIDiUAAAkKAAAAAA8FKAALAAAQAAAAIA0ACAArAAUAAAARAAYAFAAAAAAAAAAAAAAAAAAAAAAVAAAAABQAAAAAAAAAAAAAAAAAAAAIAAAAABQAAAAAAAAADBsAAACfCwAANgAAAAAAAAYyAAMAEggOAAoRAAAAAAAvFhEfHgAAAAAaAAYIAB4WAAAAAAAACC8AACAAFQAcAAAGAAAAPwAAABIAABwAAAEAABIQAA0AJQ0dBgEAAAAAAAABAAgAAAAAABMAAAAAAwAAAAAeAAAAAAwAAAAAAAAAAAAAAAAAAAAAAAAABwwAAgAAABgABAAzAAAAAAAAEKQZAAAAAAoAABAAAAAAFh4NAAAZDgAAAAAAAAAdAAAsAAMAABAAEw0AABMCFAAZAAAAAAUACxAAADEAAAANAAAAFgAMARIAABwDAAAFAAAAAAAAEwAAIBAAAAAAAA8AFQAAAAMAAAAAAAASAAAAAAAAAAAAAAAAAAAgAAAAAAAAAAAACAAAAAAJACoAAAYAABEAGBMCMCgIAAAzFgAAEwAAAwAKABEAIwAQBSASAAACAB0TABgALgAAABsfAAAAIgAAAAAmEggAAAQAAAsAAA4iCQASCwAJCgkABQAAAAAAFQAVEQAAAAcAAAMAABYBEiIhAAAOABMAAAAAAAAAAAAbAAAAAAMAAAAAAAAAAAAAAAAAAAAAAAAAAAAAAAAAAAAAAAAHAAAADwoQFQoABgMbEhAAAACFAAAACAADAAgAGgAAEhcRCAAADAITEQAAABsAABQAHBcAAAEYAAAfBj8AAAAlAAATAQAWAAAWAAAAAAAVAAcSAAAAAAAAABQAKxMAABccIwAAAAscAAAAAAAAEwAAAAAAAAAAAAAAAAAADgAAAAAhAAAAAAAAAAAADgAAAAAWAAAAAAAAAAAABwACAAAAAAACACYAAAkAAAARKooAIAAAAAAAJxIAAAABBwAYAAAFFQAAAA4AEAAADAAAEwwFDgAAFwAAAAAAAAkNABYAAxgAExAAABYPAAAADAAABQAAAAAABx4AHBAAAC8MBgAAAAwAABcAAgAAAAEAAAAAAAAABgAAAAAAAAAAAAYAAAAAAAAAAAAAAAAAAAAAAAAAAAAAAAAJCAQACwoTAAAAAAIRAAAMAAAAfUoYGwAAAAAAABUAEgEVABMAAAAAAAAACgAAAAAHAAAQABoAAAgAAAACAAAAAAArCwAQAAAABgoAAAAAKgAkBSMAAwAAABoFAAAAACATAAAGABECAQAACgAAAB0ADwAAAAEAFgAEAAAAAAAAAAAALwAAAAAHAAAAAAAAAAAAKQAAAAATAAAAAAAABwAAAAAADQAAIQAAAAAAFgCGMAAAAAAADAAfBxcAAAoAFgAAAgAAAAAAACsGFwAFDQwIACAAKhwABgAAACwAAB4AEwcAAA4AAAAOAAAAACQHDwYNAAAiABcAEAcZCAAAABcADgEmAAwGAA0AAAAMAAAAQQAPAAMAAAAAAAAAAAA2AAAAABwAAAAAAAAAAAALAAAAABoAAAAAEQAPDhENAAAbAAATAAAGACYAAEJFAAAHAAAAFw8KAAAAABEAABwSGwQAAAAAKREAACMABA4AABkAAAAmAAAfBRQSBAAJABcAAAACAAASABkTBAAAAAAYAAEJCgAAAAANAQAADgAAACkLAAAAAAAIABQAJgAkAAAAAAAAAAAAAAAAAAAAAAAAAAAAAAAAAAAAAAAAAAAAAAAAAAAhAAAVEigAJAAPFQAADgAAAA0BdUgAIgAJFgAAAgAAABIAHAAAAB8AABcAAAAPABMAACkAAAAAAAoTAAAAMgAAAAANADEfAAAIAA4GHgApAAAADgAAAAAAACsLIwAAAgAAEhIpABYRAwAAAAAuABUADQAZAAAAFAAAAAAAAAAAAAAAAgAAAAAAAAAAACEAAAAABgAAAAAGAAAAAAAEFQAPBQAAAgAAAA4AAAAACSx2QgwRIAAfCw8AABAGAAAAAAcAAAAnDQAABgAACiEACAAAGBcAIAADJA8UCwAgAAAAAAgAAAANAQAAFgAIAA4ZAAAAAAAhACwABwAQAAAAABwiABsAAAAAAAAAFwAAAAAAAAAAAAAAAAAAAAAAAAAAAAAAAAAAAAAAAAAAAAAQAAAAAAAAAAAABQQADgAABw0ALAUOAAAJAAAAQnsAAAAAFwQAAAAbABMiBhEADwAAEQAAACMKACQACAAAAgACAAAYAAkACRwAAAMjAAUAACMyAA8yAAQAFScLAAAAAAAxABIAHwAQFwAABwANAAAFAAAgFhAAAAAAAC4AAwAAAA4AAQAAAAAAAAAAAAAAAAAAAwAAAAAPAAAAAAgAAAAAFQAAAAA6ACgDDQAbEB4AAAgdDwQWEwAAckEPAAAAABEUBBcAAAksAAASAAAKFgAABiYAAAAADRMZFhMAABMAAAAAABQAAAwmAAAAFAAAAAAbDBcAADAWEQAJAAAjAAAALgAAAAEAAwAAAAAADQAAAAAVAB8ABAAgAAAAAQAAAAAAACIAAAAALQAAAAAAAAAAAAAAAAAAIwAAAAAAAAAAAAAFHicAAAAAHQAKDQAQAAAASgQEAAQnAAAICAAPBgIANxYEAAADDRUaEwAaABINCgAqAAAXBwAHAAAcAAASABsADQANGRQHAAAAAAwQHAIAABMAAAAmAAATCwAAAC8LAAAJFAALEgAAAB8NAA8AFAALAAAACgAAAAoAAAAAEgAAAAAAAAAAAAYAAAAAAAAAAAAAAAAAAAIAAAAAACoAAAAADAALAAAOABIADAAADQAAACAACQ8aEAADAAAAIAAAExctDAAHBwUAAAAAAAoGDgAAACkAAQAAAAAIEwAsFxwLDQAADQwpChsADAkAIQAAAAAAIAYAABAbFwAAEwknAB0AAAABABEACQAAADoAHQAUAAwACgAAAAAJAAAAAAAAAAAACQAAAAAAAAAAAAAAAAAAAAAAAAANEBUAAAAVHQ4lABoAEwADAAAAFAAAJgAACg0QAAgAAAkABBEBABwAAhgAABcODwMAACsAABMdAAAADxcHAAMAAAAAAAIAGAAABwsAPAAAJQAAAAAAMQAAIwwMAAAAEgAAAAAiFQYAAA40DwAAAAAADwAAAAAAAAAAAAAAAAAAAAAAAAAAAAAAAAAAAAAAAAAAAAAAAAAAAAAAACQAAAAAAAAAAAANAAAAACELADQABUMNHQAAAAAAAAIAJQwADgAAAAAAAAAOAAAAACETABMAHAAjDgAAHwUAKwEAAAA1AAAgAAAANAAAACYAAAARFQAVGgkCAAAAAAAABwAAGgAAIgAQAwAAAAAAEAAAAAAAAAAFADEAAAAAAAAAAAAAAAAAAAAAAAAAAQAAAAAAAAAAAAwAAAAAAAAAEAAAIQEIBAAAABoACQBBFkEAQWIeMgEICg4AAhUADBMAAAAuABYAAAAAABYRAAAMCiQGAAAXAAINAAAAAAAFACAAAAAAPQAAAAADAAAAAAAAACYXAAMAJQAALAAAJQIAAgAAAAAAAB0AAAAAAAAAGAAiAAAAGQAAAAAGAAAAACcAAAAAKwAAAAAkAAAAAAAAAAAADQAAAAAAFAAAABEcGQAADAUOAAAUEBUARwAJaA0AHwAOAAAaAB4SACoAAAAAAAQcHQAAAAAABhcAFQAAABQAAAcAFgEABAAAAAchAAAYHRIEACEKFBIAEQAAHAAMAAQIAAIAAAAAMisAARMcAAYRJAAFAAAAAAAhAAIAGAAKAAAAAAAAAAAAAAAAAAAAAAAAAAAAAAAAAAAAAAAAAAAAADIaDAAhAAgAIAAAHAAAEQAAAAB0AA1jCAAVAAAKAAYfAAALBAAAABMAFgAACgAAAAEAAAAAAAAAGgUcHQYAFQAAABwmCRoACQAACREAAAoSCQAMAA8HHAAMAAAHAAATAgAtAAAAAAAAAAAeAA4AAAAAAAUADAAAAAAAAAAAAAAAAAAAAAAAAAAAAAAADgAAAAARAAAAAAUAAAAAAwAAAAAAFAAJEwAAJAAAEwAAPnhKLygAAAAAKwYACQsAAAAkChMMAA4GAAAAAB8AFAAAAB4iIxcADgIOAwAAAAQABBQEAAkLLgADFgAIDQAAAAAfABYPFQAsAwAAAAAOAB4AJgEqAAAAAC8ADwAVAAQAAAAAAAAAAAAAAAAAAAAAACoAAAAAAAAAAAAhAAAAAB8AAAAAFwAAAAAPGQADIgAbCjcRCwwACREEAwAAeiQPigAAAAAAABQAIwAGAgAMAAAAFQABHAAAFB8FFSQAAAAjFwAAGgAAAAAgABQAIh8AAA0ACgAaAAAAGwkAAAAAAAAAAAACFgAZABAACgAaAB4WEQ4AOQAAAAAAAAAAAAgACQAAAAAAABYAAAAAFAAAAAAEAAAAAAAAAAAAKgAAAAAAAAAAAAIADwAAAAQJAAAAAA8QCxURIQKFAAWIAAAABwAABxEYFgAAAAAAAAAGAAAAABcAAAAEAAAQIRkLABQAAB8AAAAgAAAALgAAIAUAAAAAAAAmAAkOAAALAAAQAAAAAAAAAAAABAAhKgAeAiQUACwAAAAAABUAAAAEAAAAAAAAAAAAAAALAAAAAAAAAAAACwAAAAARAAAAABYAAAAAACMAAAAAAAAAAAAACAAQAAAjAH8AAoUAAAAAAAYAAAANAAAkAAYZEQAAABkAAAYdAAAXAAAAEwAABgAAKwUOAAAAEQ4AAAAIAhUAKBwAAAAlAAAAABgHAAAADAMAGgUOACIqABYAAAAAAAAAAAAUAAAAAAAAAAAAAAAAAAAeAAAAAB8AAAAAAAAAAAAhAAAAAAAAAAAAAAAAAAAJHQANDAUAAAAAEwsKAAAEACQAdwAAQQAACxIACQkAABEAACMAAAAQEQAAAAMLAAAAEgAAACYAACEDAAwMAAAAAAAAAAYAABsmAAkIIAAAAAAUBg4AIA8AGgMAGAAAAAAZGAABAAAAAAIjEAAAAAAAAAAsAAAAJwAAAAAAAAAAAAAAAAAAAAAAAAAAAAgAAAAAEAAAAAAAAAAAAAoOAAAAAAAGDgkJIwAOAAAADCd+KwAAGQAUAAwABQAAAA0PAAAAEwAHAAAAHwAAAAADDQAAAAANAAAJAAAABAAAAAAAABAAABEOFgABAAAAAAAAAAAAAwAAGwAAAAAgDCYFABgAGgAAEwAAAAAAGQANAAAABgAAAAwAAAAABAAAAAAAAAAAABYAAAAAAAAAAAAAAAAAAAAAAAAACAAODw0QBAsAAwAABRMAAwgyBgABAABxAAsFAAAPIwALAAAAAAAZAAAIAAAAABgIAAAAAB0AAAYAAAAAACIAAhoHAAYXAAwAABIAJAAGAAwAAAAAAAAAIQAABgAADCoAEhoAAAAAAAwEAAEAAAACAAAAAAARAAAAJwAAAAACAAAAAAYAAAAAAAAAAAAAAAAAAAsAAAAAAgAAAAARCR4AABUAABoACRoAAAAyIwBIJQAHJIEABQQFAAAZEAAIAA0AABsFABEAAAAbAwAkAAsAABcJAAAFABMABgAAIhEABgwAEywADgkNGgALAAAAAAoAHhYACgAjAAAAIgAAAxYOACwAAAoKDwAAAAAAAAAAAAAAAAAAAAAAABEAAAAAAgAAAAAAAAAAAAkAAAAAAAAAAAAAAAAAAA8QAAAuACoAAAsNAAAGAAAAAABuMREteC4AGBgAABwAAAAACgATIAAAAQAAAAAHEQAtAAsAKCcTAAUNAAAXBQAAAAABGxkAABogAAAAAwAACiYQFg4ACgAAAAgrAAAAAAIkADMUAQ8cBRkkAAAAJQAAAAAAIAALAAAAAAAAAAAAAAAAAAAAAAUAAAAAFwAAAAAAAAAAAAYAAAAAOQkAGBUdAAAXGwASACsAABYdFWkQAAJ+AAAKDQkADREAAAAhAAAAMAAAATEAABEAAAAAABAAJQAQACEaABUHBRErGA0AAAAAAA4AAAAAAAsQEgIAAAAAAD0AKwALBRgAABMAJAgAAAAAAw0AJgAXAA4ABgAAAAAAHgAAAAAFAAAAAAAAAAAACgAAAAATAAAAAAAAAAAADwAAAAAQDBEAABMAACAAEA0AAwAAAAAAACsERwA6AA4AACEKKxc1FgIDAAAAAAAVAAMAHAAAIAAAEgAAAAAAAAAHAAAAACAZECALAAAABwAAAAAVACcAABUAAAMAERIAGQAbACYAAAAACgAAABMAFAAAAAcADAASAAQAIAAYAAAAAAAAAAAAPAAAAAAXAAAAAAAAAAAAAAAAAAADAAAAAAAdHQEAAAAAAAAiGwAlABcAFwAmNwA6NQAABgoVAAAoAAAAAAAABQAEAAAnAAA4AAAABwAoAAAAAAgAAwAJBAgAIAAAAAAAAAMACRMAAAAPAAAAAAAjAAAHABgNEx0aAAAAGAAAKQAAAAACAAAAAAAAAB0AAAAAABkAAAAAAAAAAAAJAAAAAAwAAAAAAQAAAAAAAAAAAA4AAAAAEwAEDAAAFAAADAAAAAEEJgASAAcxIEIAIwQEEyIAAAASAAAGAAkABRciAAAALwAAADgAAAANAxQLFR4AFAAAAAAAKw0AFysAAAAAAAAMDQAACwAAAAAPAA0ABwAOAAAAAAMDBQAAABcADgAAAAAAAA4AAAAAAAAAAAAAAAAAAAAAAAIAAAAAAAAAAAAIAAAAAAAAAAAAJwAAAAAABQAAAAgABwIKAAAHCQoAAAAAGTAAIAAADgEABwQFAAAgCQMAFBAABwAABhEAAAAAAAAAIAAAEAAAEycAFQAJABIVJwYxAAAAAAAAAAQWCgAAAAAgAA4eAAAAAAAeAAAADAAmCAcBAAQADwAPACYAAAAhAAkAAgAsAAAAAAYAAAAAEAAAAAAbAAAAAAAAAAAAAAAAAAAAAAAAAAAZBB0ILBUAGycYAAAPAAACIzc/GAIAAHcUAiAiJAAXAAAsAAAAAAAICAAAAAAfDAANKgAEACkLABsADBwAABwADAAAABUAABAMEwACAAAIAA8aAAAAAAMAAAAAAAAAGwAaAAYACgAAAAAAAAAAAAAFAAIAFwAAAC0AAAAAAAAAAAAEAAAAAAAAAAAAJgAAAAAdAAAAAAAAAAAAAAAABQAAFhMAAAAAAAAABgARADwnAD8AdBcSEAAAFwAAAAAACgMbHwADAA0AAAAAAAAVAAAAAAIAFAABCgALEQAYAAAAAAAAGAAAACYqHwAXAAAAACkAAwAeBAAeAAAAAAsAGw0WAB0AARsAAwALACAAAAADAAAACwAAAAAAAAAAAAkAAAAAHgAAAAAJAAAAAA0AAAAAEAAAAAAOEAAFAAAAAAAADgAeAAoAACdDAAAsDgZCGAAAABcXABsvBQAAAiYAIgAMAAYIAAUAAAAAAAAAEhALAAAAAwAAGw0AAAUAAAAKHQgAAAAQACYOCwAAACMABQAJEAAbAAYAIQ0lAAARABcAAAAAAAgAAAALACUAAAAAAAAAAB4AAAAAAAAAAAAMAAAAAAMAAAAADQAAAAAAAAAAAAAEAAgAAA4eAAAAFgAPFgAFIQAAAAAARSsAExsVABALAhMAAAAAAA4AAAkHACEGCQAECS4AAAAAAAAYDBUGAAAbEQAAAgAAAAkAFQAAExIAABoACxYABwoAGQAAAAAbAAAAAgAKAAEAAAEAAAAAAwAAAAAAAAAAACoAAAAAAAAAAAAAAAAAAAgAAAAAJAAAAAAAAAAAAAAAAAAAAAMAAAAAAAcAEQAFACcbFwA2SygAAAAWNAAAHQcHGgAAABcGAAAHEQACBwAAABccCwwdFA0AERQAAAAAAAAAABoZAAAAAAAACyMANgAACgAABwEAAAAAACEACxAAAAgQGBEkAAQAAAcAAAAAIgAAAAAAAAANAAAAAAAAAAAbAAAAACEAAAAAAAAAAAAXAAAAAAAAAAAAAAAAAAAXGwASAAYAABQcACYTAAENAhkSLR4ALHBGMw0AABAJAw8ADw4AAAAALQAAKwAAABABAgAPEgAAAAAAAgsAGAAVHAAAAAQCAAAKAwAfCAAADA8VCgsWHQAAGAIjABAYAAAPAAAGAAAdGgAAGAArAAAACwAAAAAAGAALAAAAAA0AAAAADwAAAAAXAAAAAAoAAAAAFwAAAAAAAAAAAAAAKhMEAAAAACQqACAAGBsFAABDAAAJbw4DFwMWAAAAADwAAAIACQEAFQAKAQAHAAAABQUAGgEACgAAAAASCwAAMAAGDgEAAScAAREdLQAZADoZAAcAMCMABSMAAA0AAB0cJxAAABYACQAAAAIAAAAWAAAAAAAeAAAAAAAAHgAAAAAAAAAAAAMAAAAAAAAAAAAUAAAAAAAAAAAAABUGAAAADAAABwYnAAAXEAA2AgAAAwAoRwAtABAAByURLgAeABIAAA8CAw8AAAAAAAwAAAMHLBcAAgAjAAAAACQAAB0GAAACCwAAGgAAAAAAAAEAAAAUAAAAAAAAHgoAAAAXAAoAAA0MIAAACQARAAAAAAAAABIAAAAAAAACAAAAAAAAAAAAAAAAAAAAAAAAAAAAAAAADwAAAAAADAwAAAAAABMJAAAdAAMAAAAAAAgfKgAQAAAzCgAAPy0RAAAAAQAAAAAYAAAAAAAAAAA/AAIAAAAAAAAPEhUFAAAAAAAODgAPAAAJAAAAAAcAAAEPAAwAAAAVEgAnAAAACQAFCwAADAAANQAZABEAGgAAAAAAAAARAAAAAAAAAAAAAAAAAAAAAAAAABUAAAAAAAAAAAAAAAAAAAQNAAAbAAAAAAAWAAAAAAAMKQBeSAA4SCwAAAgAAAgNCgAAAAAAAAoIAAAjAAAUMA8AABECAAEAAAAnAgAAAAAAAAUDCyIDMCAUCQUAIwAAAA8bAA4AHQAAAAAAIQAAAAcAAAADAwAACwAAAAEAAAAAAAAAAAAAAAUAAAAAAAAAAAAAAAAAABQAAAAADgAAAAAAAAAAAAYAAAAAAB0DGAowAAYAABUAABUAAgA2AGcAABMXAA8AACgAACUABAAGAAoNAAMAAAAAFgAOCQAACRYOGQc8AAAADwAAAAAJADEaARQNFAYGAAAnHgAeAAANCxEAAgAAAAAAAAALGA4fAAAAAAAAAAAAAAAAAAAABwAAAAAADQAAAAAAAAAAAAAAAAAAAAAAAAAWAAAAAAAAAAAAAAAAAAAAAC8AJwIAKwAAHwcXJgASAxwHaQADAFYAJwAAAAEhAVUAAAAAEAAAIAAAAAAQAAAtAAsAACcEABQAAAAAAxIcAAAAABEAAAoAAAAGAAAVAAAAAAoSAAAAAAAlABsAAAAMBxoAAAAAABIiAAAqAAAAEQAJAAAADQARAAAAAAoAAAAADwAAAAAAAAAAAAUAAAAABwAAAAABAAAAACYALAMQACAYCQACBQAAABMHEQBmAAAeADAAABcAACcDGwAAEgAAAwQABAAAARETBAARAAYAAAQoAAAdDwACAAAAAAAAABYAAAAAGAAMABgLAAwrAAAAAAAAAwYAGgAAAAAAAAAGAAAOAAYAAAAAAAAYAAAALAAjAAAAAAAAAAAAAAACAAAAAAAAAAAAAAAAAAAAAAAAAAAAAAAAAAATIQAGGQYRAAAAGxoJAABKHWosACAALwAAEgUAHCoTEwATAAYAJQ8AAAAACgAADAAAAAABEh4dKwAAABIAAAAAABoQAAYhBAANAA8CAAoJAAAAAAAqAAQAAAAkAAAlBhgdACUFDCUjABoAAAACABQAAAAAAAMAHQAAAAAAAAAAAAAAAAAAAAAAAAAAAAAAAAAAAAAAAAAAAAAfAAAAAAAAHhQAAA4fAAgRAAAAKgAAAAEiAAAAAAAiAAkEDigFBQkSAAAAAAAAACUAABMSAAYAARwACAAAAAAAACEAAAAjExAmAAgXOCkAHB8AFhcAAAAABhMAFQwAKQYiCg4LKAAAEwAGFgADAAAAAAAAAAcAAAAAAAAAAAAAAAAAAAAAAAAAAAAAABUAAAAAAAAAAAAAAAAAAAUSAAAACQANAB8mAAAmAxISAAAASyw+CCUUAABAAAAAABAABC0OAAASAAANHBsgFgEKEQsAAAAZEw0SAAAAAAADGQMAHgADDAcfADILAAAAAgAACAQAAAYADQAAAAEABAAiAAAABAAADwAFAAIAAAAAACMAAAAAAA0AAAAAFgAAAAAWAAAAAAMAAAAAAAAAAAAAAAAAAAAAAAAAHAAAAAAAAAcWABEAAB8AAAAADEUAFQBZAAAuAAAAKQA7ABkYGwAAAAAXAAAAABIDGCAYEwAZAAAuLCAADgwSAAAiCAALAAUAKw8LAAgEABIAJQwAAAAABysVAAAIHg4AIgAmAAAAAAAJEAMAAAAAAAAADgAAAAAAIwAAAAAAAAAAABQAAAAAAAAAAAAAAAAAAAAAAAAAFgAAAAAnAAAAAAAMDgEPAAAOAAAAFQAAAAAAAFxCDQAADwAALCYAAQAAABsACQAAAAAAAAAWIgAAEwcOEQ4NABYAHgACAEEGBxcVAAoMABAfAAAbAAAsGAUAGwILIQAMABIAAAAAAAAuCAAYAAAAAAAqAAAAAAAAABwAAAAAAAAAAAAAAAAAAAAAAAAVAAAAAAAAAAAAAAAAAAAaAAAAAAkOAAAaHjoAAAAQAAATAAAkAAAADR0nWVQAHwwwAhkLSgAZHQAAAAAGAQwAABsGAAAAAAISAAAHAAATCAAeBgAfAAAADgAHAAgABhYWDAUAJRUAAAAADwALIQAAAAQAAAAAAAAAAAAABQAhAAAACAAAACMAHwAAAAAAAAAAAAAAAAAAAAAAAAAAAAAAAAAAAAARAAAAAAAAAAAAAAAAAAAAFB8nAAMAAAAAAAAAABINQkldShkAIS0AAAA7ISAAAAAiDQYAAAAIHgkdAAAKBAAAHRQkABkAAAkAAB0AAAAAABsqLyQAHwANAAUAACgcHgAAHBgAABEMAAAUAA4AAAYPDgYMBgAAFgAAAAAAAAApADEACQAAAAAMAAAAACgAAAAAFQAAAAAAAAAAAAAAAAAACwAAAAAACQEAAAAADBcAAAAZBAQMAB8vAAAABFxKAAAHABcANgALFwAGADA0IwMVIAAABgYdDhAOACQAGQAOAA4AAAAAAAMAAAAAAAMAOAItAAAAAAAAAAAACQAaGAAZAA8TACIABAAAEQAUKAAAAAAAACwALAAAAAAAAAASAAAAAAAAAAAABgAAAAADAAAAAAAAAAAACwAAAAAAAAAAACEAAAoAABwACwAAAQAABQAAABEAAABLWQAABwAAACYDDyMAFwAAAEIKAgAIEgAAHgAALwMAABswABgAAh8AEgAmHAAnAA0AEAYWGwAAAAAHAAQCHgcBAQABAAAKACMgAAAnFCUABQAAGAATAAAAAAAkAAAAAAAQAAAAAAAAAgAAAAAVAAAAAAoAAAAAHwAAAAAUAAAAAAAAAAAAOAAJAAAFDRcFAB4hAC4KKwAACgAAAAtMAAAAFwAEACwBAAAVADYAAAAlMAATLgAAFAAAADIQIQAAIQASAAAGAA0OCAETHAAAIQAAKQcCMwAAFAIHADcAAAAIAAAiAAAAECEAAAAACBQBAAQAAAAHAAAAAAANAAAABwAAAAAmAAAAABEAAAAADwAAAAA1AAAAAAQAAAAAAAAAAAAJAAIkETAAAAoAFwAGACoAAAQQAAkAFQs1DAEAAAQAGgAZAAAAAAA8ABIAAAAoAAAAAAAAJQAAAAAHAAAIBAALAAAAACgAAAAAACYAABseAwAAAAAFLAIFAA0AAAAACwAAAB4nBwARBAANAAAAAB0ABAAAABAAAAAWAAAAABIAAAAAMAAAAAAuAAAAAB8AAAAACQAAAAAAAAAAAAAOAAwJBwALEwIADwAAABAAAAAAAAQUZisIACYAABYCQDAAAAArAAAAABUAFgAACAUADQAKAAExBRUABwAABQAAAAMFAA0uABgAAAAAFgAAGQAAEgAAAAATAAQHESUABAAABgAAAAASABAQAAAAFgAcAAAABwAFAAAAAAAAAAAAAAAYAAAAAAAAAAAAAAAAAAACAAAAAAAAAAAAAC4+DAACIgAAAAAaAC8FCgAWAAAiBABtAAAAAAAgATUaAAAIBAAHIgUAAAARHwQeAAUNAAAIAAAAAAAACwAAAAwfAAAKBQArAAwAEQoAFBEAAAAAAAAAAAQAFRUIFQAAFCEACB4AAAcAAAAAAAAAAAsAAAAVAAAAKQAAAAAhAAAAAAAAAAAAAAAAAAAPAAAAAA0AAAAAAAAAAAAAAAMkCwACAAAWAAACAAAFAAUTACEAAAAjIhAGEhMaADAnAAkAAAACIRUAAAweGAAAAB4TAAMOAAAAEAAAAA8HDAUGAAUWAAAACgAJAAwAACMAAAAAAAAAAAAFBCAAAAAYEQAfNCEAAAARAAAFAAAAAAAAAAAADAAAAAAAAAAAAAAAAAAAAAAPAAAAAAAAAAAACwAAAAAIAAAAAAAAEA4AKAAAAAAfAAwwAAAAAB4AAAArRwYAAAUmHBUETykAAAAmEQAfAAAdKAcAAAANAAAAAAMJABUTAAAiAAgADgAgCAAABAAAACYADwAAABgAEwAZACIABhUAAAAADQUXBQANAAAAGQkAAAMAAgAJAAAAAAAfAAwAAAAAAAAAAAAQAAAAAAAAAAAAAAAAAAAHAAAAAAAAAAAAABMANBgMAD0GAAAfIAAAGAAAAAAJNwAFGxwAAAAACTQwCAAAAAAAPSgcAAAAAAYAAAAAABwALwAACA8ABwAvHwAACwoABwAAAAAACBYLAAMAAB4AGA0CGBIBAAAAAAAAAAAQEQAJAB4AACgAAAANAAAAAAAVAAAAAAAAAAAUAAAAAAAAAAAAAAAAAAAAAAAAAAQAAAAAAAAAAAAEEAoAAAA9JAUAIQUAABQADgAAAA8AAAAbGgAiDwAJCFAAGBARAA4VDwwAAAAAAAAALw4AAAACJAAAAA0NACgAHQAAABoAACoAHSAgDwAAFgAyADAAAAAABxAPFBASAAAAABQAFAIAAB4AAgAHAAAAAAANAAAAAAAAAAAAAAAAAAAAAAAAAAAyAAAAAAAAAAAAAAAAAAAFAAAAAAAAFwAdMQAAAAAADy4AAAAABw0EAAgFAAAAAAANBQwIABoAAAADFAAABQAsBwAYCxcTAAkkABgHBBEVAAAFACAAAAAAAAAAAAANADggAAAAAAAUAAAPAA4AAAAlAAANEAcAABEAAAAAAQkAAAAAAAAAAAIAAAANAAsAAAAADQAAAAAAAAAAAAgAAAAAAAAAAAAAAAAAAAAAAAAAACoAAAAAFwA6AAAACgAGAAMJGwAGAAAAHxgAAAcAAA4zCAoWGAANAAAgCwABAA8KCwIAAA0HABkTBwYAAAAAAAQAAAAAAAAAIwAAJQAIBgoADAAAAAgHAAAAEAAAAAsEABUnAAAlAAAAAAQAAAAAAAAAAAAIAAEAAAAAAAAAAAAAAA8AAAAAAAAAAAAeAAAAAAAAAAAAFwAAAAAADBEKHQAEAAAAHQARABAAJAoABQAAGQAAAxAAPAUAAwAXCQASAAAAAAAACAAAAAAACQAAAAAKAw0AAAAAAAAvAAsZABYAEgAAHQAAIgAAFxQPAAAYAQAAAAAADAAAAAAUIxgKChsDAAAAHwAAACkAHQAAAAEAEAAAAAAAAAAAAAAAAAAAAAAAAAAAAAAAAAAAAAAAAAAAAAAAAAAAFgUPHggAAgAeABQAAB8AAxEADgYAHAQKAAAAAA0IAAMAAAkAACIAAAAfFDgAKAAAAAAAFh8AAAsACQQAAAkAAAAbAAAAABEAAAAVFBcRAwAKAAAeCAAcEAAAAAAABxcAChAjAAQJDwAKAAUAAAAAAAAAAAAAAAAAAAAAAAAAAAAAAAAAAAkAAAAAGQAAAAAAAAAAABIAAAAAAwAAEwsADRoYACYAAAAAFQUmCQQACwoHAQAAAAAAJwgACgAdABoAACMAAgAAAAAAABkAGAAAHgAAAAUADCIADQAAGBAAFQwAAAAAAAAAAAAfACgbAAAAEAADAAgvAAAAAAAADyMuGREGABcAIgAAABsAAAALABgACAAAAAAMAAAAACQAAAAACAAAAAAjAAAAAAAAAAAACQAAAAAMAAcJAAUsECUADQEQFwAAABEAAAMABA8ABwALAD0AAFQIABYABwAAAAAADwoHARgAAA8FAA0AAAAmAg4NHAAIAAAAIQsgAA0DHAA8CQAFAAAAAAAACQ8OGQYAAAAAAAAAAAAMAAAFAAAODQAvAAAAAAAGAAAACAAeAAAAAAAAAAAAEwAAAAAAAAAAABEAAAAAAAAAAAAVAAAAAAAXEwAIBxAHAC8AEAYAAAAAAAADAAAAAAAdAA0tSQQABQAAMAAaBRIAABgAABkAACEGAAAUAAAPAAAAHikEAAAGLwAAJQAGAB0AAA0JAAAHAAAUAA0wAAAjADkAJCgAIgAAIgAAEAcAABALAAAABAAAAAAAAAAAAAgAAAAAGAAAAAAZAAAAAAAAAAAAAAAAAAAAAAAAAAAAAAAAABwAHAAMAQAAAQAWDxoABgAAAAADAAAHAAAkFAAGAAgxDwAWAAAAAAAAAAAUEhsAAAAAAAIGAAMFAAANAAAbEgAAAAEAFTAJDAAWHRISABUAAAAAAgANFgAAAAANFAAAAAAAAAAAAAAAGi0AAAAAAAkAHgADAAAAAAAAAAAAAAAAAB4AAAAAAAAAAAAAAAAAAAAAAAAAAAAAAAASAAAPAAAAAAAAAAAAAAABEAUAAAAEAwARHQkAAAAABzIAAAAVABUQAAAAABoPAAsHBgAAABsABgUUHAwAAAAAAAAAAAAAMAMUFTEKIQAAAB4RBQAAAAkpAwAAAAAABR4fFgAAIAAADAwFCgAKAAAAHAAAAAAAAAAAAAAAAAcAAAAAAAAAAAAAAAAAAAAAAAAAAAAAAAAQAAAAACIAAAAHBgAXAAAAAAAAAh0MAAYSDAAAEAAAAAAATAkARQAAAAIqBQEXACIAAAU8AAAUHgAAAAADAAAXABEdGygAEwAAAA0ADi4AAAAAAB0XAAAAAAAUAwAADwkAAQADCx0AAAAZACsAACEAAAAAFwAAAAAAJAAAAAMAAAAABwAAAAAbAAAAAAAAAAAAIgAAAAAAAAAAAAAAAAAAAAAdJwAAAAsgFRoXDg8BLQgAEQEAABEAGREFACk8ADUADAAFAAAAGRgAAAAAEgwMACsABgAwDgARAAAAAAAMIA0AACcAAwAFEQAJLgAAFAAAAAAAABMFAAAAHQwgABgAAAAAAAASCxcAAAAACwAAABMAAAAAAAcAMwAAAAASAAAAABAAAAAAAgAAAAApAAAAAAAAAAAABAAAAAAAAAAXAAMcAAUAGQAIAAMLAAAAAAcAAAYAABURAEsKCAAnEQAZDQAAAAAaDQMAAAoAAhkAAAgQAAARBiQAAAAaAB8ACQAUAAAcAAAAACELJwAAHAAAGxYAAAAEACYAABIAERgAAAAAABASAAADAAoAAAAAAAYAAAAIAAAAACAAAAAAAAAAAAAAAAAAAAgAAAAAAAAAAAAAAAAAAAAAGAAIAAAABQABAAcWAA4AGQAAAAAAKgAIJgkANAAfSjwNDREAAAAAAAAAAAcAEgAAAAAAAB0iAAAOAAAABgAAHBEuBAkAACsZABYXABIeAAAeAgkAAAAvDQAQFgAAAA0AESMADwAKAAwAAAAAAgABAAAAHgAAAAAAAAAAAAAAAAALAAAAAAAAAAAAAAAAAAABAAAAAAAAAAAAAwAAAAAABA8hGgIABQAAABgLEwAAAAUHAAAADwAZJwAAIAAAGQAMEQAAAAAAGDUAAAAAAAYAEwYZKxwAAAAQAAAAHgAcAAAVAAMAAAAAACMAAAAAAAoHAAASIgQAAAAAABcACQ0DEw4AAAAAAAAAABcADQAAABEAAAAAAAAAAAAAAAAAAAAAAAAAAAAgAAAAAAEAAAAAGgAAAAAOAAAiCgAAAAcKLAAGABEAAAAJAgAAABkeDhISBT8ADTszABsAIQIAAAcAAAAAMDAAABkAAAkABAAAACcAAAgTMAAAAA4SABwABRYAABMAACAAAAAbDgAABQAAAAUAAAAIAAAACAAAAAA3EAAAAAMAAAAbABEAAAAGAAAAAA0AAAAAAAAAAAAuAAAAAAAAAAAADwAAAAAAAAAAAC4WDgAAFAAAPgAAEgAtDRgAEAAAEAAAABwAFAUAABoAAhoRABsHGxkABAAAAC0CBgAFAA0AAAAAEwUAABgAARgACAAlABQKAAAAFAAAAAAdAAAVAAIAGQIEAAAeAAAIGgARAAAAAAAAEAAAABwAAAAAAA0ACQARAAAAAAAAAAAAAAAAAAAAAAAAAAAAJwAAAAAAAAAAAAAAAAAAAAABAAAMCAAABAACAA4ABwsAHQAAJQAABgIeAAAAAAsAPBoAAAAJLAAIAAAAIRECAAEEAEAHAAAAIx0DAAAAAAAgAAAAACMQACUAAAAPAAsiAAMuABgPCBUAEAAAKwAMAAAeAAAQDgAAFT4AEgAIAAAAFQAAABUAAAAAAAABAAAAAAAAAAAAAAAAAAABAAAAABMAAAAAAAAAAAAAABEAEwAABRMNEQAQAAAGABYAABUhCwAAEAAAAAAAACdBFQAtGwAKAAAAACkACQYNABURABoAAAAAAwAEEwUAACAAAAAAAAEAJQ8ACQAUABQSEwAAJgAAGiIcAxILABcLChMAAAQAHQAADgAAAAAADAAAAAAAAAAAAAAAAAAAAAAACwAAAAAPAAAAABwAAAAAAAAAAAAAAAAAABMMAAYZAAAcEgAcCAACAAAOAgAAEgAAAAAEDgAAAAgHAAANAAAAChkPHwAMAAAAAwAYExYIAAAjIgAAAAADACQAAAAAAQIWABUAFQAvAAAAACIABAAkAAAXAA0AAA0AAAgIAwAAADAACwAAABgAAAAFABAAJQASAAAAAAAAAAAAAAAxAAAAAAAAAAAAAAAAAAAAAAAAAAAAAAAAAAARACgAAAAGAQAqGRMCBAAPAAAlEQAXAAAQCQAKEgABABQUAAAgDQAUAAMAABcAAAACAAIWARQAABARAAkAAAAnDgAALQAEHSQFACsNDAAAFAAAAAgZAAAAAAAiFgAAGxIAAAAAGAcACQkADAAAAAgAFAAAABQAAAAAAAApAAAAAAAAAAAAAAAAAAAAAAAAABMAAAAAAAAAAAACAAscABMAAAAAGTMCABMAAAAAAAsABgAABgAADABAAAAAAAAfAAAYAAAFGAAvAAAgAAAAAAwWJgoAAAAAAAQNAAIAAAAVMA4AABAXCwAACSEAAAAAPQAQOQAAAAAEEyUAAAAAABcAABMAAAAAAAAAAAAAAAAAAAAAAAAAAAkAAAAADwAAAAAAAAAAACQAAAAAAAAAAAAAAAAAAAAeAAAJAAAAGAwUABATAB4LAAAAEwAACA4AADEAES0AAAAYHgMAAAAAAAUABwALKQAFIAAABBANGQ8ACSkRAAAAAB8DDh4dAAASBQcXJAAADQANEQAAAAYKDwEPDgARHCYAAAAAAAAAABAWABcADgAAAAAAAAAAAAAAAAAABgAAAAAAAAAAAAgAAAAALgAAAAANAAAAAAAAAAAAABEAAAAmBwsAAB4AAA4AAQAdACcAAAACAAAAEgAAPgAAAAAABxQNAAAALCkOEAADAAAABBQUAAAUABUADREAAAAPAB8AAAANHD4YAAArAwAAABobGhQTBQAVDhcEAAAAIQcCBQAAAAAAKQAAAAAbAAAAAAAUAAAAAAAAAAAAAAAAAAAAAAAAAAAAAAAAAAAAABcAAAAAAAAAAAAAAAAAAAAAAAkUAA0sIAAYDQAAAAAqAAATAAAADQAQABFCAAQEAAAAAAAAABkBABoBAAAAAAAAAAAKAAAABgAAAAAAAAU5AgAjAAATAAAODQAEFh0AAAA1FQAGAAABIQADACQAAAgAAAsZOwAGAB8AAAAPAAAABAAAAAAAACUAAAAAAAAAAAAAAAAAABgAAAAAFwAAAAAAAAAAAAoOFgAAGQAAAAAADygAAAAAABAAAAAaBQBDBhELAAwLABgcAAACAAAADyQAAAAOAAAeAAAFCgA6ADkALAAADhMAJSsAAAAADQAAABMAAAAEBiALACobEgARGSAAAAAAAAscHwAGAAAVAAAFAAAAAAAAAAAAHgAAAA4AAAAAAAAAAAAAAAAAAAkAAAAAAAAAAAAFAAAAAAAAAAAAABgADgkAFgAIAAALAAAAAAAUJh4RGAALAEYAKAAyOx4OIB8VAAYHAAAvCh0AAAAAABQWAAAAAAASAAAAIAAAAAAADwAsAAAoAAAAABIgAA8AAAMUCgATAAAeHRsAACEqAAAPAAAFDgAdHgAAAAAAAAAAAAAAAAAAAAAAAAAKAAAAAAAAAAAAAAAAAAAGAAAAAAAAAAAACQAAAAAAFAAAAAAAGioRKQAALAAQACUAAAATAAAVVAADAwAAPwAACAEAFwAAAAgADgAAAAAACA0ACQAAAAALKAAAAB8QCgAAAQgpCwAAAAAAHQAAAAAhABMZAAAAAAAAAA4AAAAAAAAAAAALAAAAAAAAAAMAKAAAAAAAHAAAAAAAACUAAAAAAAAAAAAAAAAAAAAAAAAADAAAAAAYAAAAAA4iAAAOAAYADQgMAAAwAAAqAAoAAAAAAB1SAAAAEzFJJwAJAAQNHgAkCBkABDoAAAAgIAAAAAAAAwkGCQMEBhUAMwAABQAVAAAAHAM4AAAAABQAAAwCAB0AAAAUAAAPAAoLAAAACAcAAAAAAAAAAAAiAAAAAAAAACYAAAAAEgAAAAAAAAAAAAAAAAAAFgAAAAAVAAAAAAcAAAAAAAAAAAAAJgYMETYEACAsHRcWAAAAAAghABYAABoAI0w4ABcgAAAIAAAADBwAAAAAFwEADgAAAwAAABgAAAoCFx0AAAATAAAMCAAHABEAAAAfAAAAABkAAA8EKgAAAAAAACcHAAAAKhEAABcAAAAAAAAAAAAKAAAABQAAAAAAAAAAABMAAAAAEwAAAAAAAAAAACIAAAAAGgAAAAAAHwUAAA8BAAYAHgAAHgAAGAAAKwwAAAAKBQAAAAAMADoACwcAACAACgwTAwAAGgAAAAAAMgEABRQAFg4ADiEAAAAUAB4AIAAGAAAXFwAAFwAHJRUECAAYFCERAB0AAAAXEAAAACMIDQAAAAAAAAAACgAJAAAAGAAAAAAAAAAAAAAABgAAAAAAAAAAAAEAAAAAAgAAAAATAAAAAAAOAAAAAQAAAA4JAAA3IAAAGBEHGxMAGworFQAAAAxINgkAAwAAAAATAgAAAwwAAAATAAYALRUAABEKEwAABQAAAAESGgAGEAAMAAcUABkFCRUAABwAAC4JABgPABYCHw46AAAAAAAABhMKAAAAGAARAAAACgAGAAAAAAAAAAAAAAAQAAAAAAAAAAAAEAAAAAA0AAAAAAAAAAAAEAAAAAAJIgAADxkAAB4BGyQAHwgAAAAAIkUKACMAA0UBAAAAAAAHGwAAABkEIwsAABQZDwAMDQABKwMKGgAAAAMAAAAECAAAAAAAAAoAAAAAAAAAGAAbChUrFAAAAAkAAAgAAhAADREAJB4ADAAAACkAAAAAAAAAAAAAAAAAAAAAAAAAAAAAAAAAAAAAAAAAAAAAAAAAAAAAAAASAAQPAAAAIicYAAAAAAAAAA4XABUAAAAAOQAACxcaPToACwAAAQAWAAAAAAALKRoAFAAAACcjAAAOAAMAAAAJEAAAACEAAA4NAAAAACEAAAAaAAAEHygzBwAIAAALCQAUIhYAFwAOAAAbFQAtAAIAEQAlABYAAAAAAAAAAA4AAAAAAAAAAAAAAAAAAAIAAAAAAAAAAAAAAAAAAAAmAA8XAAEAACkICwAYAAANAwAAKQwOAA8VKAAAAAAtNQAAHgAAAAIAAAAhABABAAAAAA0TAAAVJAcAAAAAABoAAAsAFwANGAARABIAAAAAABkADwgZAAwAAAAAAAAbAAAADAkACAAAEx8aACgABwAAACgAAwANAAAAAAAAAAAAAAAmAAAAAAAAAAAADQAAAAAAAAAAAAAAAAAABgAACQAnAAAuAAcACx4AAgIFFAANDw4VDAAAGQwAOgBCABwcHgAAEQAAAgAaBAABAAAAFioAFwAbNQMCAAgICQAAFQAAAAMAHwUAAAIDCQAARAAAAB0AAAAAAgAADwAEAAoAEAQAAAsAAAAAAQAXAAIAAAAJAAkAIgAAAAAAAAAAAAcAAAAAFAAAAAAWAAAAAAAAAAAAAwAAAAAIJAAAAAARAAIiIwADFAAAAAAdDgALIxIaAAAPABcuFUQAAAAAABEMPQAAHwEABhcAAAQiHQAICwAAACAAAAAAABEAKgEIAAAXKR8AAAAADQARCQAAAAAAJQAAAAAAAAsAAA0WDgQAAAAAAAADAAEAJQAXADIADwAAAAAAAAAAAAAAAAAAAAAAAAAAABcAAAAADwAAAAAEAAAAAAAABwAPAA0ZAA4AAAAAABMAAAIoAAAsABQhAA8AASEAAAAAABsQAAsLAAALAAEFAAAAHQYAGQAAAAARAAAAACAaAAAAAAAAAA0AEQAAAAAAAB4AEwMALQAfABMRDgUAAAAvAAAAAAAAAAAcAA8AAAAEAAAAAAAAABsAAAAAAAAAAAAIAAAAAAAAAAAAMAAAAAAAAAAAAA4AAAAAAAwAAgAmAAsaHQAAAgAAAAAAAAAeHRAMAQASAAAABwA7BAANCQAAGwEcABkABDIAAAAAACERAAAMAAYADAACAAAAAAAAAAAKAAETAAAcIykhAAALEQAAAAAANCIPAAAAAAAIAAAiDwAAAAkACQAAAAAAAAAtAA0AIAAAAAALAAAAAAMAAAAAKAAAAAAAAAAAAAAAAAAAAAAAAAAAAAAAAD46AAwZEgsAAAABAAAJGxsAAAARABkTADASAAAAJwwABgoAAAwAAAQjKwESAAAAAQEQADAACAAAIAAJAA0AHCATAAAAEQQAKQAAIAATHggEAAAGABgoIgAPABcAIQAAAAoAABEAAQAAAAAAEwAAAAAAAAAKAAAAABkAAAAAAAAAAAAqAAAAABkAAAAABgAAAAAPAAAAAAwoAA0AABEAAAApGR0AFAAuIxcJEAgcAAAzAAAACAAAFAAbAAARAAAKABoALAAVAAAUAA0AACIZAAwZAAAAEgAAAAkDAA4AJQIqAwAAEAkUAAAQAA0AAA8AACYACAgAAwUzAAAbBAAAAAAQAAAALwAAAAQAAAAAABoAAAAAAAAAAAAAAAAAAAQAAAAAAAAAAAAOAAAAABsAAAAAGAAZAAANAAAXAAUAEAAAFAULBAgAAAAAADApLAAAIxAAAAAfAAEACRQAEgcgDBAtFgAAACcEAAsAABEACwAAAAAAAAAAAAAZGwEgFBwSAAAIBwAEAAAAAAUKAAAFJwAAAAAAGQALAAAAAAAAAAARAAAAAAAAAAAAAQAAAAAAAAAAACsAAAAAAgAAAAAAAAAAAAAAAAAABQAAAAALAAAVHgAAAAAHAAAABwACAAACAgACAAAAPwkAAAMCABAGAAAAEAEAHwAAAAsdABYAAC8LAAcAAAAIFCwAHQIAAgAEAAAAAQAKDQAYABYAAAABMQAAKAAZNBsAEwAAGgAAEjcJDQYAAAUAAAAfAAAAAAAAAAIAIwAAAAAAABAAAAAABQAAAAAAAAAAACgAAAAADAAAAAARAAAAACENCgAeAAUjAAATBgIPIxcAAAAAAAQAGAAhAAA9MyweACcuCwAcAAoSAAAADxoAAA8hEhAdAAALHh8AAB0ADgAAAAAAGggAAB8AEAAPAAABAAcJDjEAFwAAFiMAAAAAABQOCQABACUUIgASAAgAAAAYAAIAAAAAAAAAAAAAAAAAAAAgAAAAACcAAAAAAAAAAAADAAAAAAAAAAAACxsACQcKAC8AAAAAAAsBAA8HAAAAAAgNJygABxoLAwAIHQMMEi4AABwAIAAAExEeLA0AGAAxDxYABwAAGR4OAA4KJyAdAA8OJQAQAAocAAAAAwAbAAIFABQiAB0AGwAAExMAAAMEACEAIxYAAAAAAAAAAAAWAA8AAAAAAAAHAAAAABcAAAAAAAAAAAAAAAAAAAAAAAAAGwAAAAAUAQAAAAAZADkDAAIDAAAeAAAABBIBABoEAAAAAAAAAAAeFjAAAAAmAAAAIgAKEAoAIgACAAAyJAcAABwAAAAMAAAAAw8AAAcPAAwoBQACACgAAAAAAAsYBAsgGwAAAwAWJhkAAAAAAAAHAAAAAAAAAAAAAAAAAAAZAAAAAAYAAAAAAAAAAAAAAAAAAAoAAAAACQAAAAAAAAAAACYrABAUABQZDhcAAAgAAAANAAAnHwwAFxYAAAcABxEAAAQTAAAiJQALJAAAAAABAQsHABEAAAADFgUAABgAKgAAIwABBhsvAwUAAAATABQAAAAOIgQAAAAACAMBGQAWAAAADyEQAAAAEAAAABIADwAXAAAAFAAAAAAAAAAAAAAAAAAAAAAAAAAAAAAAAAAAAAAeAAAAACAAAAAAAxIBAAAAAAAHAAQAAwAAAAAOFhEAAB4AABkAAAARABUfAAAAABscAAIAAAgMABsAAAAkABgABQAXAA1BAAAAAAAAAAAAAAAEDQASBQASAAgUAAAIAAAAABQFABoXCQAAIwAACw4DCgAOEwAABQAAAAoAAAAAAAAACQAAAAAAAAAAAAcAAAAAAAAAAAAAAAAAAB4AAAAAAAAAAAAJACIIABwAIAAwABAAAAokAAAAAAYBABAFIQAbBwAAHQAAACcADwAIAB8KFQAAAAAAAAAAATQcBQoaKAAPAyYACQcAAAQHAAAAMgkTLAMGAAAFAAsIAAAAAB0AHAAAHRoCAhoAAAAHABwGAAAAAAIAAAALAAAAAAAAAAAAABoAAAAAAAAAAAAhAAAAAAAAAAAAAAAAAAAAAAAAAB8AAAAAAAAzABAAAAAQAAAHCCcAHhYBABUqBhIAAAAABwoAAAAAACgAABwAAAMAAAAACQATAA0OAAwmBAgAAAAADgENHAAAACQACgQAABoFACUAABgyGgAAABIEAAAAGhwFAAAAAAAOAAAAAAAAAAAAAAAAAAAfAAAAAAAAAAAAAAAHAAAAAAAAAAAACgAAAAAlAAAAAAAAAAAAAAAAAAAAAAMFAAAXABYAGgAhGgMAAAAADwACDgAgAAAOJQAFAAAKAAAdDgAAAAAXAAACAAYHAAkAHAAJAAAADAAcGwAAAAoAEwAABwAbAAAAAAwAACgHAAIYAAMAABAAACMAABQXCQAAHxwAAAAAAAAAIwAAAAAAAAAAAAABAAAAAAAAAAAAHQAAAAAGAAAAABEAAAAAAAAAAAAAAAsEBwAAAAAAAAAAKQEHAgABCwADAAAcAAAMAAQAEAAAADgAAAAAAQAmDgAACxgAACUAAAA0FAQAAAAAAAAAAAAHFgAAAAAAGwIAAA8AAAAfAAYOBw0eAAEACQABAAoTABYAExoAEgoABQACAAMAAAAAACEADgAFAAAAAAAAAAAAAAAAAAAAAAAAAEIAAAAAAAAAAAARAAAAAAAAEAAACR4AAAwAGiEABx0hIBIUEyYADwAgFgAAJQkABQAAAAAADAAAAxgZAAoYAAwzAAUAAAAHAAAAAAAAAAACAAYABgAZBCkRAAAWACQLGyAZAAALAQAADgAAAAAVAAAAABUAAAAiAAABAAAAFQAAABsAAAAAACUAAAAAAAAAAAAbAAAAAAAAAAAAAgAAAAAiAAAAAAAAAAAAJCAKABgAAAABHgAAAAAAAAAAEgAAChUrABwEGwAEJgAAABEAEQMAAAAAAAAAKA4AAAAAABIAAAAAGAAAAAAAAAAAABsAEAAAAAEoAAAAAAAbIQsfABEEAAAAAAAAAAAMDAAAABIABgkfAAAAAAAAAAAAAAATAAUAEgAAAAAAAAAAAAAAAAAAJQAAAAAGAAAAAAAAAAAAAAAAAAAADDESAAAADAkADwAHAAAAEgsVAAAMAAYjAAAAAAAGAwoCAAYNAAADEx4IJgAAAAAXDxgyDQwAHwwTBw8OCRYGAAkSCQcAAAAdABIAAAADABgABQAYDwAfBgAMBhcaACczACEkDAADJRc/IAAbAAAAFgAXAAAAAAAAAAAAAAAAAAAAAgAAAAADAAAAAAAAAAAAAAAAAAASAAAAAAcCAAAAER0PIQAOAAAhAAMAABcFEAAAAgwPABMMAAAAAAAAABIBAAAWAAAABCQABwAKCgAWABEAABUAEQAAAw4ADSMvAAYAABMAAAEHCwAAAAANDAARAAAAADYABA0tABoAEiEaAAAAAAAfAAAAAQAAABkAFgAQAB8AAAAAIAAAAAAGAAAAAAAAAAAAJwAAAAATAAAAABEAAAAAAAAGDRYAAwArAAAJDAARBiQAACgAAwEAJAAAAhYNFAAAAB4AAAAAAgUAAB8IDhQWGhMAFgADAAAACgAAAzAEAAAXDAAAAAAZFxMAEAAJLQAAHBcAGAAOHQkDAA8AAAAJExMQAAAAGg0AABMACQAQABkAGwAqAAAAAAAAAAAAAAAAAAAAAAAADQAAAAALAAAAAAAAAAAAGgAAAAAAAAALAwAbAAAAAAAAAAAXAAcAAAAHEwAAQAAAEQAEABEMAAAPABIaAAAQAAAAAB8AAAAACh4AJgAKCgAAAAAsAAYVHQgABwADACgaAAAAAAAAEwAAAAcXIAANBAkRAAAaAAcAADcKBBgGHAAAAA0ABwAlABQAAAAJAAAAAA8AAAAAAAAAAAAAAAAAAAAAAAAABAAAAAAAAAAAAAAAAwAqAAAPAB4CAAAAAAAMAAAAIAACCTMmAAABBAAAAAYSAAALAAEAAAAAAAAAAQ4AAAAYADIAAAAAAAQAAAAIAAASAAAAACQFEAAAEQAAEBcAACAHDgAAAAAAAAAAAAMHAyUIABwAACgEACYABQAaAAAAAAAjAAAAAAAABAAAAAAAAAAAAAAAAAAAAAAAAAAKAAAAABAAAAAADQAAAAAAHQAqAQkUAAAAAQABAgADABAACAARIAAAIwAAFAAsAAAAAAoAAAAABhYOBRsXABAAHQAAFAAUAAAAAAAJBAAAEiwAFwgAACYAABEAAA4DAAAAAAAAABQAFBUWBQAYEyUAAAAAABwAAgAAAAgAHAAAABIADgAAAAAfAAAAABoAAAAAAAAAAAAAAAAAAAAAAAAAAAAAAAAeCwAjAAAAAAAAGxQdAD8AAi0AAAkAAAAAAAAWBA0SAAAAADsAAAAAAAAAABwUAAADAAAAABoWEwAAABoAAAAAAAArEgAACgAcAAcWGjklBgAANAoQFAAHABwAHgYADAAACwACGwAAAAAABgAAAAAAAAAAAAYAAQAdAAAAAAIAAAAACwAAAAAFAAAAAAAAAAAAAAAAAAAGAAAAAAETHgoQAQcjDQAUAAAcLR8OAgkZGRYoAAAALAACAAAAFwAAAAAAEAAAAAAAAAMhAAAKAAAAGRMAAAAAAA8DAAAhAAgADw4AFgAADCkAAAAAEgAIDAEHAAASBxcAAAAAABobECIADgwZHwUNAAEAAAAAADgAAAAMAC4AAAAAAAAAAAAXAAAAAAAAAAAAEAAAAAAAAAAAAAAAAAAAAAAZAAAHAAAsAAUCAAMAAAAWKwAAAgAAEwAAAAEAKwYAHAATAAABDwcKGAAFAA0AACUDAAMaJQAPAAAAFwALCAAAARczABAAAAAAISEAAAATFwANJQ0AAAASAAAAAAMUICcYAAYSAAcABisAAAAQACcAFAACAAAAAAAAAAAAAAAAAAMAAAAAAAAAAAABAAAAAB0AAAAAAAAAAAAMAAUAAAAmHSEAABsTKhEAGAYAAAAAAAEAACsMHwAAADEAAAIfGQQaAAAAEwAECxgAFhsRJQAOBRYAETQTAAAUAAAAAQAAAAAAIQAFAAAAAAAECyEAABkAGAAWAAAAAAAaHhEAEwAAAAQAAAAAAAAAAAAOAAAABwAAAAAAAAAAAAAADgAAAAAQAAAAAAAAAAAADQAAAAAWAAAAAAADBgkdBAAAABkkAAAhAAALAQMAAAANABg6AAAcKwgQAAABABoAAAweHgARCwAAAAAHAAQAKAAAABoAAAAGGAIFLAAiJgMbAgsAGgkOGAcVAAAAIAAAGwAAAAAAAAAsABcBAAAUIgkZAAAjADAAAAAAAAAAAAAXAAcAAAAAAAAAAAALAAAAAAEAAAAAAAAAAAAAAAAAAAAAAAAAAAAUCAAWABYAAAAbGCAVDQAAABMFCgAEAiQAGwAAHgAAKQABABMAACgKADAACRUFBwYAAAAACiQdAAABAAAAABEABzIAACAJAAAEJx0NABIAADgABQgAAAAAAAAHAAAAGBEAAAMnFwAAABcAEwAAAAAAAAAAAAAAFQAAAAAAAAAAAAQAAAAAHAAAAAAAAAAAABkAAAAAAAAAAAAAABUQEQAgCzcAAgAHDAgAABAAAAAAAAUAHQArAAAAAAACBwAAEwAAHwAADwAPAAAaABQCJBYYCioAEAAAFwAAGgAfAAAAABwAHgAAAAAJACQQAAAAOwwAAAAHFgAlAAIAAAQCAhYAAAAAAAAMAAAAAAAAAAAAAAAAAAAAAAAAAAAAAAAAAAAAAAAAAAAAAAAAHgAAAAAAAAAAAAAEGQAiAgAAAAARAAAAAAALAAANAAkAACorJxgACRMPACkAAAAAAB0YAAAAABsAAA0FAAAAAAAVAAAbGQAAAAwAABsDBTQEADIABxYtAAACABATAAAAAAAAABcAAAsAACUABAASGQ8AAAEAAAAADgAAAAAAHQAVAAAAAAAAAAAAAAAAAAAAABcAAAAAAAAAAAAAAAAAAAAAAAAAAAsIAAAAAAAAAA4bCAAOCw8aAAAPAAAAAAAAAAsAAAYAAB8AACAAAAADAAANAAASAAAAAAAXABYAAAAAOgAaAAAAGAAQAAAABAAOAB0FJwAGCgAACgAPAAAAAgAmDhsAAAEAAAAAAAAAABYAAAACABMAAAAAAAAAEwAAAAACAAAAABgAAAAAAAAAAAACAAAAACEAAAAACQAAAAAaHgAEIAoLAAAAABQAABgPABEAACgABhIALxwAABkLAAYYBQAAAC4SDwAGABwDLwAUIwAAABUAKwAAAAAEEAABAAAAFSASJgAVCAANABcAAAQFFwAAJAAABiIDBgUAAAMAAAAAFQAAEgAACQAAABQAAAAAAAAAAAAQAAAAAAAAAAAAAAAAAAAAAAAAAAAAAAAAAAAAAAAAAAAAAAkAAAABJQUAAAoAAAAGAAAAAAAAEgAAJQAAAB0AEywNAAAAABkAABUMAAIAAAAABQANER4ADhoeAgAEAAk5EAAWAAMAAAAVAAAAEgwGGgANABAPAAAAAAAaAAAAAAALEwAIAAAAFiQAAgsHAAAAEQAAAAAACQAAAAkAAAAACgAAAAAlAAAAAAsAAAAAAAAAAAAWAAAAAAAAAAAABgAyBhAAAAAACAAAAAAMAAAiACgABAAACT4AAAATAA8PBg4AAAAAAAAAACYAABcABRwAABEAAAAOAAAACBAABBMiAAEPAAEAAwAeAAAKAAAAAAAdAA4AAAIAAAAADgAAKwAvAAQbBgAABwAABQAZAAAAAAACAAAAJgAAAAAAAAAAACQAAAAABQAAAAAAAAAAABMAAAAAAAAAAAAAABIAAAAXHBwnAB0CAAEAABQAAiILABUZIAAAAA0AAwAcKw0AAAAAAAAAIQAMAAAAKgAPAAgAAAAAABsAAAwAIwAKAAAAAAAJAA4AJgAAAAAAAA8tAAECDBMKAB8AAAAADwAAABsFAAAAAAAAACQABAACAAAAAAAAAAAAAAAAAAAADgAAAAAWAAAAAB8AAAAAAAAAAAAAAAAAAAAFAAAZAAAcGQAFBwAAAAUADQAAAAAAAQAHAAAhAAASDQAAAQAKAAAABwAAABQAEwMVCQshFQAHECMdDRUAAAAAAAA9AwAIKzQXDwAcAwAdBxADAAAgCAANAAAIDAACAQACIwAAAAAeLwAcAAAAAAAGAAAAAAAJAAAAAAAAMAAAAAAAAAAAAC0AAAAAAAAAAAAAAAAAAAAAAAAAJhMAAAIfACIfAAAACB0ACgAAAwEAFAMjLwAVADgABxEAAhUAGQ8AHQ8AEAAAIgAhABoACiQAACAfAAIuAAAOAAAgAB4AAAgUCAAABR4ACQQADBYNAAAFAAAAAAAAAAcAIBoAEw8jACcQDzYAAAACAAAAAAAAAAAAAAAAAAAAAAAAAAoAAAAAGQAAAAANAAAAAAoAAAAADgAAAAAAEAAGKSIsHC0BAAAAABoAABoCAAAADRwAEgAbAAAAAB8MAAAAChEAAAcAAAAAATIAKwACCwIAAAAAAAUABQAAAAAQAAAYACwLCComAAAAHwAFAA8AGwAABgAABxEEAAAAIwAAACgAAAAALQAAABEAGgAAAAAAJAAdAAAAABQAAAAAHgAAAAARAAAAABcAAAAADAAAAAAEAAAAAAAAAAkAGBcAAAAmAAAeEwAABgAaAAAAAAgAAAgDGywAACADAAAAACw3AAcCABcAFBwRAAQrERwAAAACCBkAABoAAAAAEA8lFCwADScXFQANAAEAABYtAAAABwQAAAIAAAAMDwAbAAAPAAABAAAAAAAAAAIAAAAAAAAAAAAAFwAAAAAAAAAAAAsAAAAAAAAAAAAAAAAAAAAAAAAALQADABIAAAAAAAAABxUAAAADAAIAAAAEADcAAAoAFhwEDxA9AAAWJwAAABEAACsAAAAECwAaHhUdAAAAAAAAAAAAACUAAAAAAAYAFQAFFQAHAQ4AAAAHFQAFAA4SDQEFAAwAAAAaACkAAAAAAAAAAAAAAAAfAAAAAAAAAAAAAAAAAAAAAAAAAAAAAAADAAAAAAAAAAAAAAAAAAAHAQAAAQAIABYHERoAAAQAARYAAAAAABkQGAAAAwAWCQ8ABA4AAB4YDAAOAAAAAAAAAAAACAELLQAAGAAAAAQADgAgAAAZAAAAACMAABMAAA0AAAANCQQFAAApAAABAAAAAAkBAQAHAAAADAAZAAAAAAAAAAgAAAA3AAAAAAAAAAAADwAAAAAUAAAAAAUAAAAAAAAAAAAAAAAAAAAAKSgTATIAAAAAAAAAAAAbGQAaAAAeFwcAAAAAIwARAB0LAA0VJQAAAAAIAigNHgAACAcAAQAWAAAOAAAAAAAAAAALAAAAAAAAAAAABiEgABMAIQw2ACEAADIGGQAqAA0EEQAAAAABAAAEAAAAAAAKAAAAAAAAACYAAAAAAAAAAAAAAAAAAAAAAAAADwAAAAAiAAAAAAAAAAAABx8ADQAcBQ8AHwAAAA4AAAAXHQAFAAAOAAAeKQAADgAMEgAUAAAcACQrAAIABgkAAAAAAAAFDAUkEwAQERwAAAAAAAAAAAIWABQpAAARHAAFAAABAAAAHQAAAAAAAAAAAAAAAAAOAAwAAC8AAAAAAAAAAAAAAAAAAQAAAAAeAAAAAAAAAAAABAAAAAAjAAAAAAAAAAAACgAAAAAAAAAIAAAOBwkiGAAKCgAAHgAACQAAAAAAAA0AJA0AAAAGAAAfAAAABgAAAAAAAAAAFgoZAAAAAgAAAAIJABYKIAcAAAEAHgAAAAwUIAAHAAAAAAgNAAAAFwsCACAWAAAMAAAADwAAAAAAMwAAAAAAAAAAABUAAAAAAAAAAAUAAAAAAAAAAAAcAAAAAAAAAAAADgAAAAAAAAAAAAAAAAAIAAAEAAAAGgwdAAAeDgAAEQAAMAAjAAAACwAACSIAAAAAFQAAAAMGFA8ACwAAACoAAAAAABYKAAAAAAYQCQobEAIABAENAQA0Eg8ABh4AAAAUKhAAAAQAAAAAAAAAGwwAGAAACAAAAAgAAAAYADQAAAAoAAAAAAAAAAAAAAAEAAAAABgAAAAAGwAAAAAAAAAAABQAAAAA");
var lutS="44015444025645045745055946075a46085c460a5d460b5e470d60470e6147106347116447136548146748166848176948186a481a6c481b6d481c6e481d6f481f70482071482173482374482475482576482677482878482979472a7a472c7a472d7b472e7c472f7d46307e46327e46337f463480453581453781453882443983443a83443b84433d84433e85423f854240864241864142874144874045884046883f47883f48893e49893e4a893e4c8a3d4d8a3d4e8a3c4f8a3c508b3b518b3b528b3a538b3a548c39558c39568c38588c38598c375a8c375b8d365c8d365d8d355e8d355f8d34608d34618d33628d33638d32648e32658e31668e31678e31688e30698e306a8e2f6b8e2f6c8e2e6d8e2e6e8e2e6f8e2d708e2d718e2c718e2c728e2c738e2b748e2b758e2a768e2a778e2a788e29798e297a8e297b8e287c8e287d8e277e8e277f8e27808e26818e26828e26828e25838e25848e25858e24868e24878e23888e23898e238a8d228b8d228c8d228d8d218e8d218f8d21908d21918c20928c20928c20938c1f948c1f958b1f968b1f978b1f988b1f998a1f9a8a1e9b8a1e9c891e9d891f9e891f9f881fa0881fa1881fa1871fa28720a38620a48621a58521a68522a78522a88423a98324aa8325ab8225ac8226ad8127ad8128ae8029af7f2ab07f2cb17e2db27d2eb37c2fb47c31b57b32b67a34b67935b77937b87838b9773aba763bbb753dbc743fbc7340bd7242be7144bf7046c06f48c16e4ac16d4cc26c4ec36b50c46a52c56954c56856c66758c7655ac8645cc8635ec96260ca6063cb5f65cb5e67cc5c69cd5b6ccd5a6ece5870cf5773d05675d05477d1537ad1517cd2507fd34e81d34d84d44b86d54989d5488bd6468ed64590d74393d74195d84098d83e9bd93c9dd93ba0da39a2da37a5db36a8db34aadc32addc30b0dd2fb2dd2db5de2bb8de29bade28bddf26c0df25c2df23c5e021c8e020cae11fcde11dd0e11cd2e21bd5e21ad8e219dae319dde318dfe318e2e418e5e419e7e419eae51aece51befe51cf1e51df4e61ef6e620f8e621fbe723fde725";
var lut=[];for(var i=0;i<256;i++){lut.push([parseInt(lutS.substr(i*6,2),16),parseInt(lutS.substr(i*6+2,2),16),parseInt(lutS.substr(i*6+4,2),16)]);}
var cv=document.getElementById('hm');var ctx=cv.getContext('2d');
var W=cv.width,H=cv.height,OX=98,OY=85;
var img=ctx.createImageData(W,H);var d=img.data;
var X0=718.5-11*54; // center of f=1.0 cell
var CW=5.4, RH=2.0, YB=820.0, SHARP=1; // bottom edge of row 0
function val(r,c){return b.charCodeAt(r*NC+c);}
for(var py=0;py<H;py++){
  var y0=OY+py, y1=y0+1;
  // rows overlapping [y0,y1]: row r spans [YB-(r+1)*RH, YB-r*RH]
  var rows=[];
  var rlo=Math.floor((YB-y1)/RH), rhi=Math.floor((YB-y0)/RH);
  for(var r=rlo;r<=rhi;r++){
    var top=YB-(r+1)*RH, bot=YB-r*RH;
    var ov=Math.min(bot,y1)-Math.max(top,y0);
    if(ov>0) rows.push([r,ov]);
  }
  if(SHARP&&rows.length>1){var best=rows[0];for(var q=1;q<rows.length;q++){if(rows[q][1]>best[1])best=rows[q];}rows=[[best[0],1]];}
  for(var px=0;px<W;px++){
    var xc=OX+px+0.5;
    var x0=OX+px, x1=x0+1;
    var R=0,G=0,B=0,cov=0;
    // columns
    var cl=Math.floor((x0-(X0-CW/2))/CW), ch=Math.floor((x1-(X0-CW/2))/CW);
    for(var c=cl;c<=ch;c++){
      var left=X0-CW/2+c*CW, right=left+CW;
      var ovx=Math.min(right,x1)-Math.max(left,x0);
      if(ovx<=0) continue;
      for(var k=0;k<rows.length;k++){
        var r=rows[k][0], w=rows[k][1]*ovx;
        var v=0;
        if(r>=0){
          if(c>=0&&c<NC&&r<NR) v=val(r,c); else if(c>=NC) continue; else v=0;
        } else continue;
        var col=lut[v];R+=col[0]*w;G+=col[1]*w;B+=col[2]*w;cov+=w;
      }
    }
    var i4=(py*W+px)*4;
    d[i4]=R+255*(1-cov);d[i4+1]=G+255*(1-cov);d[i4+2]=B+255*(1-cov);d[i4+3]=255;
  }
}
ctx.putImageData(img,0,0);
})();
</script>
</body></html>
